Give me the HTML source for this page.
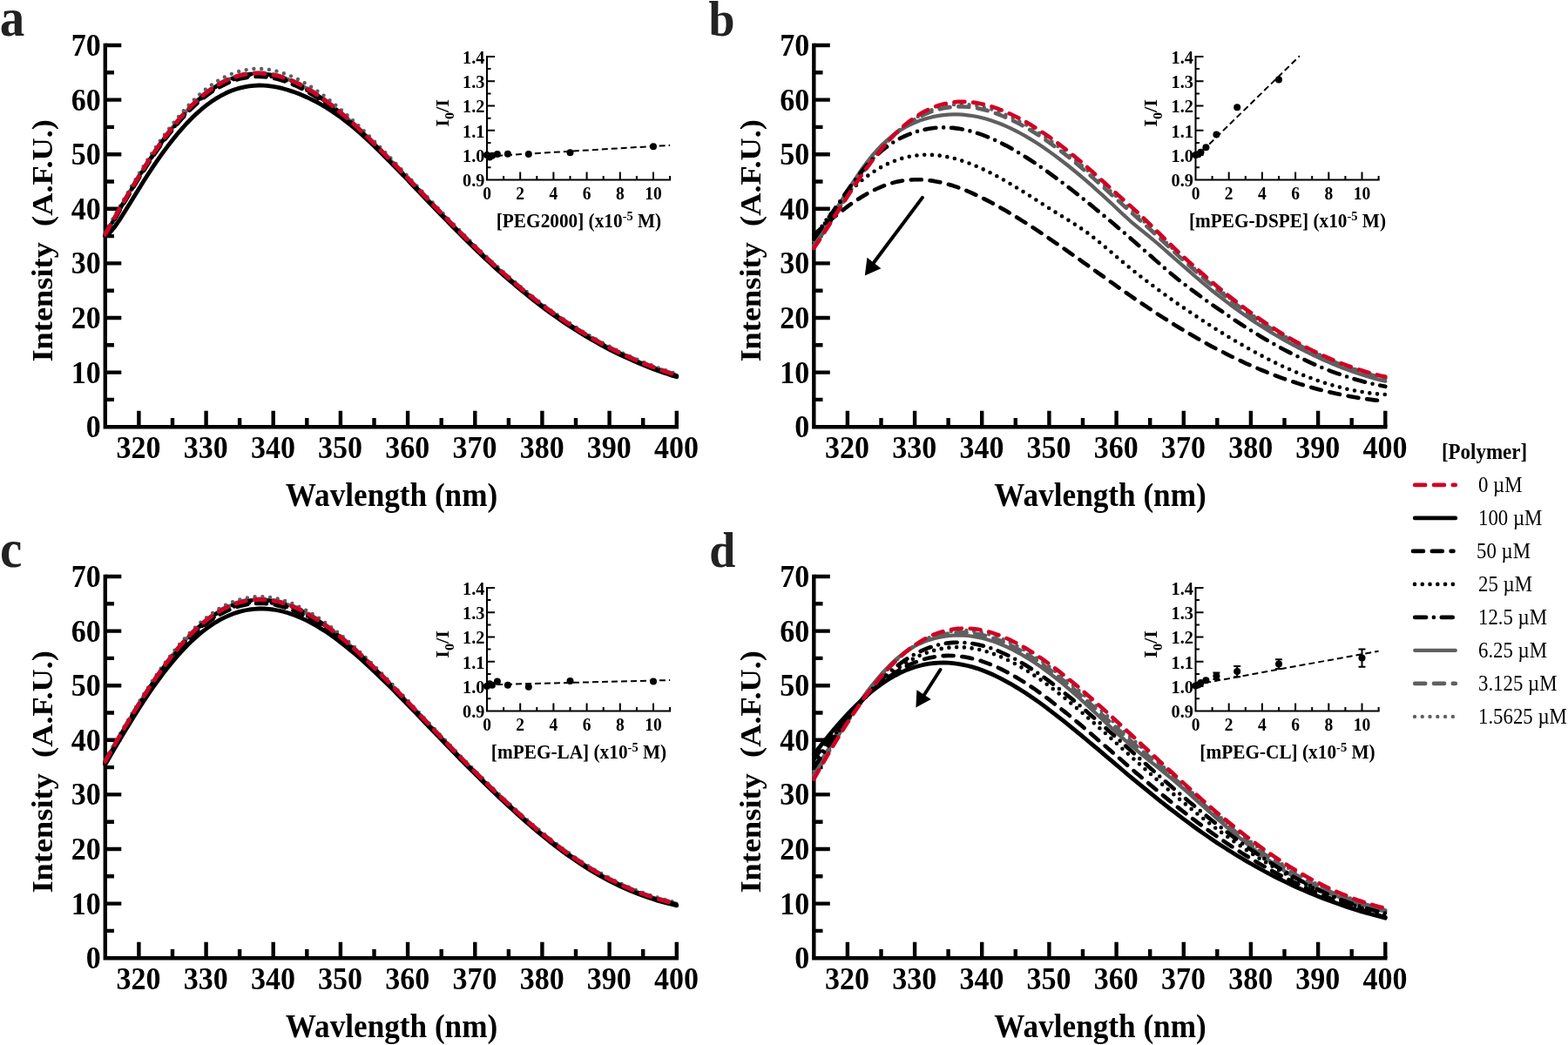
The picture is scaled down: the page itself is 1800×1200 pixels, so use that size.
<!DOCTYPE html>
<html><head><meta charset="utf-8"><title>Fluorescence quenching spectra</title>
<style>html,body{margin:0;padding:0;background:#fff;width:1800px;height:1200px;overflow:hidden}svg{display:block;filter:blur(0.35px)}</style>
</head><body>
<svg width="1800" height="1200" viewBox="0 0 1800 1200" font-family="&apos;Liberation Serif&apos;,&apos;Times New Roman&apos;,serif">
<rect width="1800" height="1200" fill="#fff"/>
<path d="M120.8,49.8 V490.2 H779.0" fill="none" stroke="#000" stroke-width="4.4" stroke-linejoin="miter"/>
<path d="M120.8,458.9 h10.2 M120.8,427.6 h18.5 M120.8,396.3 h10.2 M120.8,365.0 h18.5 M120.8,333.7 h10.2 M120.8,302.4 h18.5 M120.8,271.1 h10.2 M120.8,239.8 h18.5 M120.8,208.5 h10.2 M120.8,177.2 h18.5 M120.8,145.9 h10.2 M120.8,114.6 h18.5 M120.8,83.3 h10.2 M120.8,52.0 h18.5 M159.4,490.2 v-18.5 M198.0,490.2 v-10.2 M236.6,490.2 v-18.5 M275.1,490.2 v-10.2 M313.7,490.2 v-18.5 M352.3,490.2 v-10.2 M390.9,490.2 v-18.5 M429.5,490.2 v-10.2 M468.1,490.2 v-18.5 M506.7,490.2 v-10.2 M545.3,490.2 v-18.5 M583.9,490.2 v-10.2 M622.4,490.2 v-18.5 M661.0,490.2 v-10.2 M699.6,490.2 v-18.5 M738.2,490.2 v-10.2 M776.8,490.2 v-18.5" stroke="#000" stroke-width="4.4" fill="none"/>
<path d="M934.3,49.8 V490.2 H1592.5" fill="none" stroke="#000" stroke-width="4.4" stroke-linejoin="miter"/>
<path d="M934.3,458.9 h10.2 M934.3,427.6 h18.5 M934.3,396.3 h10.2 M934.3,365.0 h18.5 M934.3,333.7 h10.2 M934.3,302.4 h18.5 M934.3,271.1 h10.2 M934.3,239.8 h18.5 M934.3,208.5 h10.2 M934.3,177.2 h18.5 M934.3,145.9 h10.2 M934.3,114.6 h18.5 M934.3,83.3 h10.2 M934.3,52.0 h18.5 M972.9,490.2 v-18.5 M1011.5,490.2 v-10.2 M1050.1,490.2 v-18.5 M1088.6,490.2 v-10.2 M1127.2,490.2 v-18.5 M1165.8,490.2 v-10.2 M1204.4,490.2 v-18.5 M1243.0,490.2 v-10.2 M1281.6,490.2 v-18.5 M1320.2,490.2 v-10.2 M1358.8,490.2 v-18.5 M1397.3,490.2 v-10.2 M1435.9,490.2 v-18.5 M1474.5,490.2 v-10.2 M1513.1,490.2 v-18.5 M1551.7,490.2 v-10.2 M1590.3,490.2 v-18.5" stroke="#000" stroke-width="4.4" fill="none"/>
<path d="M120.8,659.8 V1100.2 H779.0" fill="none" stroke="#000" stroke-width="4.4" stroke-linejoin="miter"/>
<path d="M120.8,1068.9 h10.2 M120.8,1037.6 h18.5 M120.8,1006.3 h10.2 M120.8,975.0 h18.5 M120.8,943.7 h10.2 M120.8,912.4 h18.5 M120.8,881.1 h10.2 M120.8,849.8 h18.5 M120.8,818.5 h10.2 M120.8,787.2 h18.5 M120.8,755.9 h10.2 M120.8,724.6 h18.5 M120.8,693.3 h10.2 M120.8,662.0 h18.5 M159.4,1100.2 v-18.5 M198.0,1100.2 v-10.2 M236.6,1100.2 v-18.5 M275.1,1100.2 v-10.2 M313.7,1100.2 v-18.5 M352.3,1100.2 v-10.2 M390.9,1100.2 v-18.5 M429.5,1100.2 v-10.2 M468.1,1100.2 v-18.5 M506.7,1100.2 v-10.2 M545.3,1100.2 v-18.5 M583.9,1100.2 v-10.2 M622.4,1100.2 v-18.5 M661.0,1100.2 v-10.2 M699.6,1100.2 v-18.5 M738.2,1100.2 v-10.2 M776.8,1100.2 v-18.5" stroke="#000" stroke-width="4.4" fill="none"/>
<path d="M934.3,659.8 V1100.2 H1592.5" fill="none" stroke="#000" stroke-width="4.4" stroke-linejoin="miter"/>
<path d="M934.3,1068.9 h10.2 M934.3,1037.6 h18.5 M934.3,1006.3 h10.2 M934.3,975.0 h18.5 M934.3,943.7 h10.2 M934.3,912.4 h18.5 M934.3,881.1 h10.2 M934.3,849.8 h18.5 M934.3,818.5 h10.2 M934.3,787.2 h18.5 M934.3,755.9 h10.2 M934.3,724.6 h18.5 M934.3,693.3 h10.2 M934.3,662.0 h18.5 M972.9,1100.2 v-18.5 M1011.5,1100.2 v-10.2 M1050.1,1100.2 v-18.5 M1088.6,1100.2 v-10.2 M1127.2,1100.2 v-18.5 M1165.8,1100.2 v-10.2 M1204.4,1100.2 v-18.5 M1243.0,1100.2 v-10.2 M1281.6,1100.2 v-18.5 M1320.2,1100.2 v-10.2 M1358.8,1100.2 v-18.5 M1397.3,1100.2 v-10.2 M1435.9,1100.2 v-18.5 M1474.5,1100.2 v-10.2 M1513.1,1100.2 v-18.5 M1551.7,1100.2 v-10.2 M1590.3,1100.2 v-18.5" stroke="#000" stroke-width="4.4" fill="none"/>
<path d="M120.8,267.1 L126.3,257.2 L131.8,247.3 L137.3,237.5 L142.8,227.9 L148.4,218.3 L153.9,208.9 L159.4,199.7 L164.9,190.8 L170.4,182.0 L175.9,173.5 L181.4,165.3 L186.9,157.4 L192.5,149.8 L198.0,142.6 L203.5,135.7 L209.0,129.1 L214.5,123.0 L220.0,117.2 L225.5,111.8 L231.0,106.8 L236.6,102.2 L242.1,98.0 L247.6,94.2 L253.1,90.9 L258.6,88.0 L264.1,85.5 L269.6,83.4 L275.1,81.7 L280.7,80.4 L286.2,79.5 L291.7,79.0 L297.2,78.9 L302.7,79.2 L308.2,79.8 L313.7,80.8 L319.3,82.1 L324.8,83.8 L330.3,85.8 L335.8,88.1 L341.3,90.7 L346.8,93.6 L352.3,96.8 L357.8,100.2 L363.4,103.9 L368.9,107.8 L374.4,111.9 L379.9,116.2 L385.4,120.7 L390.9,125.4 L396.4,130.2 L401.9,135.2 L407.5,140.4 L413.0,145.6 L418.5,151.0 L424.0,156.4 L429.5,162.0 L435.0,167.6 L440.5,173.3 L446.0,179.0 L451.6,184.8 L457.1,190.6 L462.6,196.4 L468.1,202.3 L473.6,208.2 L479.1,214.0 L484.6,219.9 L490.1,225.7 L495.6,231.5 L501.2,237.3 L506.7,243.1 L512.2,248.8 L517.7,254.5 L523.2,260.1 L528.7,265.7 L534.2,271.2 L539.7,276.7 L545.3,282.1 L550.8,287.4 L556.3,292.6 L561.8,297.8 L567.3,302.8 L572.8,307.9 L578.3,312.8 L583.9,317.6 L589.4,322.3 L594.9,327.0 L600.4,331.6 L605.9,336.0 L611.4,340.4 L616.9,344.7 L622.4,348.9 L628.0,353.0 L633.5,357.0 L639.0,360.9 L644.5,364.8 L650.0,368.5 L655.5,372.1 L661.0,375.7 L666.5,379.1 L672.1,382.4 L677.6,385.7 L683.1,388.9 L688.6,391.9 L694.1,394.9 L699.6,397.8 L705.1,400.6 L710.6,403.3 L716.1,406.0 L721.7,408.5 L727.2,410.9 L732.7,413.3 L738.2,415.6 L743.7,417.8 L749.2,419.9 L754.7,422.0 L760.3,423.9 L765.8,425.8 L771.3,427.6 L776.8,429.4" fill="none" stroke="#5f5f5f" stroke-width="4.4" stroke-linecap="round" stroke-linejoin="round" stroke-dasharray="0 8.77"/>
<path d="M120.8,268.8 L126.3,258.9 L131.8,249.1 L137.3,239.4 L142.8,229.9 L148.4,220.4 L153.9,211.2 L159.4,202.1 L164.9,193.2 L170.4,184.6 L175.9,176.2 L181.4,168.1 L186.9,160.4 L192.5,152.9 L198.0,145.8 L203.5,139.0 L209.0,132.6 L214.5,126.5 L220.0,120.8 L225.5,115.6 L231.0,110.7 L236.6,106.2 L242.1,102.1 L247.6,98.5 L253.1,95.2 L258.6,92.4 L264.1,89.9 L269.6,87.9 L275.1,86.3 L280.7,85.0 L286.2,84.2 L291.7,83.7 L297.2,83.6 L302.7,83.9 L308.2,84.5 L313.7,85.5 L319.3,86.8 L324.8,88.4 L330.3,90.3 L335.8,92.6 L341.3,95.1 L346.8,97.9 L352.3,101.0 L357.8,104.3 L363.4,107.8 L368.9,111.6 L374.4,115.6 L379.9,119.8 L385.4,124.2 L390.9,128.7 L396.4,133.5 L401.9,138.3 L407.5,143.3 L413.0,148.4 L418.5,153.7 L424.0,159.0 L429.5,164.4 L435.0,169.9 L440.5,175.5 L446.0,181.1 L451.6,186.8 L457.1,192.5 L462.6,198.3 L468.1,204.1 L473.6,209.9 L479.1,215.6 L484.6,221.4 L490.1,227.2 L495.6,233.0 L501.2,238.7 L506.7,244.4 L512.2,250.1 L517.7,255.8 L523.2,261.3 L528.7,266.9 L534.2,272.4 L539.7,277.8 L545.3,283.2 L550.8,288.4 L556.3,293.7 L561.8,298.8 L567.3,303.9 L572.8,308.9 L578.3,313.8 L583.9,318.6 L589.4,323.3 L594.9,328.0 L600.4,332.5 L605.9,337.0 L611.4,341.4 L616.9,345.7 L622.4,349.9 L628.0,354.0 L633.5,358.0 L639.0,361.9 L644.5,365.7 L650.0,369.4 L655.5,373.1 L661.0,376.6 L666.5,380.0 L672.1,383.4 L677.6,386.6 L683.1,389.8 L688.6,392.9 L694.1,395.9 L699.6,398.8 L705.1,401.6 L710.6,404.3 L716.1,406.9 L721.7,409.4 L727.2,411.9 L732.7,414.3 L738.2,416.5 L743.7,418.8 L749.2,420.9 L754.7,422.9 L760.3,424.9 L765.8,426.8 L771.3,428.6 L776.8,430.3" fill="none" stroke="#5f5f5f" stroke-width="4.6" stroke-linecap="round" stroke-linejoin="round" stroke-dasharray="12 9.8"/>
<path d="M120.8,269.4 L126.3,259.6 L131.8,249.8 L137.3,240.1 L142.8,230.5 L148.4,221.1 L153.9,211.8 L159.4,202.7 L164.9,193.8 L170.4,185.2 L175.9,176.8 L181.4,168.8 L186.9,161.0 L192.5,153.5 L198.0,146.4 L203.5,139.6 L209.0,133.2 L214.5,127.1 L220.0,121.5 L225.5,116.2 L231.0,111.3 L236.6,106.8 L242.1,102.8 L247.6,99.1 L253.1,95.8 L258.6,93.0 L264.1,90.6 L269.6,88.5 L275.1,86.9 L280.7,85.6 L286.2,84.8 L291.7,84.3 L297.2,84.2 L302.7,84.5 L308.2,85.1 L313.7,86.1 L319.3,87.4 L324.8,89.0 L330.3,90.9 L335.8,93.2 L341.3,95.7 L346.8,98.5 L352.3,101.6 L357.8,104.9 L363.4,108.5 L368.9,112.3 L374.4,116.2 L379.9,120.4 L385.4,124.8 L390.9,129.4 L396.4,134.1 L401.9,138.9 L407.5,143.9 L413.0,149.1 L418.5,154.3 L424.0,159.6 L429.5,165.1 L435.0,170.6 L440.5,176.1 L446.0,181.8 L451.6,187.4 L457.1,193.2 L462.6,198.9 L468.1,204.7 L473.6,210.5 L479.1,216.3 L484.6,222.1 L490.1,227.8 L495.6,233.6 L501.2,239.4 L506.7,245.1 L512.2,250.7 L517.7,256.4 L523.2,262.0 L528.7,267.5 L534.2,273.0 L539.7,278.4 L545.3,283.8 L550.8,289.1 L556.3,294.3 L561.8,299.4 L567.3,304.5 L572.8,309.5 L578.3,314.4 L583.9,319.2 L589.4,324.0 L594.9,328.6 L600.4,333.2 L605.9,337.6 L611.4,342.0 L616.9,346.3 L622.4,350.5 L628.0,354.6 L633.5,358.6 L639.0,362.5 L644.5,366.3 L650.0,370.1 L655.5,373.7 L661.0,377.2 L666.5,380.7 L672.1,384.0 L677.6,387.3 L683.1,390.4 L688.6,393.5 L694.1,396.5 L699.6,399.4 L705.1,402.2 L710.6,404.9 L716.1,407.5 L721.7,410.1 L727.2,412.5 L732.7,414.9 L738.2,417.2 L743.7,419.4 L749.2,421.5 L754.7,423.5 L760.3,425.5 L765.8,427.4 L771.3,429.2 L776.8,430.9" fill="none" stroke="#5f5f5f" stroke-width="4.2" stroke-linecap="round" stroke-linejoin="round"/>
<path d="M120.8,270.0 L126.3,260.2 L131.8,250.4 L137.3,240.7 L142.8,231.1 L148.4,221.7 L153.9,212.4 L159.4,203.3 L164.9,194.5 L170.4,185.8 L175.9,177.5 L181.4,169.4 L186.9,161.6 L192.5,154.1 L198.0,147.0 L203.5,140.2 L209.0,133.8 L214.5,127.8 L220.0,122.1 L225.5,116.8 L231.0,111.9 L236.6,107.5 L242.1,103.4 L247.6,99.7 L253.1,96.5 L258.6,93.6 L264.1,91.2 L269.6,89.1 L275.1,87.5 L280.7,86.3 L286.2,85.4 L291.7,84.9 L297.2,84.8 L302.7,85.1 L308.2,85.7 L313.7,86.7 L319.3,88.0 L324.8,89.6 L330.3,91.6 L335.8,93.8 L341.3,96.3 L346.8,99.2 L352.3,102.2 L357.8,105.5 L363.4,109.1 L368.9,112.9 L374.4,116.9 L379.9,121.1 L385.4,125.4 L390.9,130.0 L396.4,134.7 L401.9,139.6 L407.5,144.6 L413.0,149.7 L418.5,154.9 L424.0,160.3 L429.5,165.7 L435.0,171.2 L440.5,176.8 L446.0,182.4 L451.6,188.1 L457.1,193.8 L462.6,199.5 L468.1,205.3 L473.6,211.1 L479.1,216.9 L484.6,222.7 L490.1,228.5 L495.6,234.2 L501.2,240.0 L506.7,245.7 L512.2,251.4 L517.7,257.0 L523.2,262.6 L528.7,268.1 L534.2,273.6 L539.7,279.0 L545.3,284.4 L550.8,289.7 L556.3,294.9 L561.8,300.1 L567.3,305.1 L572.8,310.1 L578.3,315.0 L583.9,319.8 L589.4,324.6 L594.9,329.2 L600.4,333.8 L605.9,338.3 L611.4,342.6 L616.9,346.9 L622.4,351.1 L628.0,355.2 L633.5,359.2 L639.0,363.1 L644.5,367.0 L650.0,370.7 L655.5,374.3 L661.0,377.8 L666.5,381.3 L672.1,384.6 L677.6,387.9 L683.1,391.1 L688.6,394.1 L694.1,397.1 L699.6,400.0 L705.1,402.8 L710.6,405.5 L716.1,408.1 L721.7,410.7 L727.2,413.1 L732.7,415.5 L738.2,417.8 L743.7,420.0 L749.2,422.1 L754.7,424.2 L760.3,426.1 L765.8,428.0 L771.3,429.8 L776.8,431.6" fill="none" stroke="#000" stroke-width="4.6" stroke-linecap="round" stroke-linejoin="round" stroke-dasharray="12.9 8.8 0 8.9"/>
<path d="M120.8,270.6 L126.3,260.8 L131.8,251.0 L137.3,241.3 L142.8,231.8 L148.4,222.4 L153.9,213.1 L159.4,204.1 L164.9,195.3 L170.4,186.7 L175.9,178.4 L181.4,170.3 L186.9,162.6 L192.5,155.2 L198.0,148.1 L203.5,141.3 L209.0,135.0 L214.5,128.9 L220.0,123.3 L225.5,118.1 L231.0,113.2 L236.6,108.8 L242.1,104.8 L247.6,101.1 L253.1,97.9 L258.6,95.1 L264.1,92.7 L269.6,90.7 L275.1,89.0 L280.7,87.8 L286.2,87.0 L291.7,86.5 L297.2,86.4 L302.7,86.7 L308.2,87.3 L313.7,88.3 L319.3,89.5 L324.8,91.2 L330.3,93.1 L335.8,95.3 L341.3,97.8 L346.8,100.6 L352.3,103.6 L357.8,106.9 L363.4,110.4 L368.9,114.2 L374.4,118.1 L379.9,122.3 L385.4,126.6 L390.9,131.1 L396.4,135.8 L401.9,140.6 L407.5,145.6 L413.0,150.6 L418.5,155.8 L424.0,161.1 L429.5,166.5 L435.0,172.0 L440.5,177.5 L446.0,183.1 L451.6,188.8 L457.1,194.4 L462.6,200.2 L468.1,205.9 L473.6,211.7 L479.1,217.4 L484.6,223.2 L490.1,229.0 L495.6,234.7 L501.2,240.4 L506.7,246.1 L512.2,251.8 L517.7,257.4 L523.2,263.0 L528.7,268.5 L534.2,274.0 L539.7,279.4 L545.3,284.8 L550.8,290.1 L556.3,295.3 L561.8,300.4 L567.3,305.5 L572.8,310.5 L578.3,315.4 L583.9,320.2 L589.4,324.9 L594.9,329.6 L600.4,334.1 L605.9,338.6 L611.4,343.0 L616.9,347.2 L622.4,351.4 L628.0,355.5 L633.5,359.5 L639.0,363.5 L644.5,367.3 L650.0,371.0 L655.5,374.6 L661.0,378.2 L666.5,381.6 L672.1,385.0 L677.6,388.2 L683.1,391.4 L688.6,394.4 L694.1,397.4 L699.6,400.3 L705.1,403.1 L710.6,405.8 L716.1,408.5 L721.7,411.0 L727.2,413.5 L732.7,415.8 L738.2,418.1 L743.7,420.3 L749.2,422.4 L754.7,424.5 L760.3,426.4 L765.8,428.3 L771.3,430.1 L776.8,431.9" fill="none" stroke="#000" stroke-width="4.6" stroke-linecap="round" stroke-linejoin="round" stroke-dasharray="0 8.77"/>
<path d="M120.8,271.1 L126.3,261.3 L131.8,251.6 L137.3,242.0 L142.8,232.5 L148.4,223.1 L153.9,213.9 L159.4,204.9 L164.9,196.1 L170.4,187.5 L175.9,179.2 L181.4,171.2 L186.9,163.5 L192.5,156.2 L198.0,149.1 L203.5,142.4 L209.0,136.1 L214.5,130.1 L220.0,124.5 L225.5,119.3 L231.0,114.5 L236.6,110.1 L242.1,106.1 L247.6,102.5 L253.1,99.4 L258.6,96.6 L264.1,94.2 L269.6,92.2 L275.1,90.6 L280.7,89.4 L286.2,88.5 L291.7,88.1 L297.2,88.0 L302.7,88.2 L308.2,88.9 L313.7,89.8 L319.3,91.1 L324.8,92.7 L330.3,94.6 L335.8,96.8 L341.3,99.2 L346.8,102.0 L352.3,105.0 L357.8,108.3 L363.4,111.7 L368.9,115.4 L374.4,119.4 L379.9,123.5 L385.4,127.8 L390.9,132.2 L396.4,136.9 L401.9,141.6 L407.5,146.5 L413.0,151.6 L418.5,156.7 L424.0,162.0 L429.5,167.3 L435.0,172.8 L440.5,178.3 L446.0,183.8 L451.6,189.4 L457.1,195.1 L462.6,200.8 L468.1,206.5 L473.6,212.2 L479.1,218.0 L484.6,223.7 L490.1,229.5 L495.6,235.2 L501.2,240.9 L506.7,246.6 L512.2,252.2 L517.7,257.8 L523.2,263.4 L528.7,268.9 L534.2,274.4 L539.7,279.8 L545.3,285.1 L550.8,290.4 L556.3,295.6 L561.8,300.8 L567.3,305.8 L572.8,310.8 L578.3,315.7 L583.9,320.5 L589.4,325.2 L594.9,329.9 L600.4,334.4 L605.9,338.9 L611.4,343.3 L616.9,347.6 L622.4,351.8 L628.0,355.9 L633.5,359.9 L639.0,363.8 L644.5,367.6 L650.0,371.3 L655.5,374.9 L661.0,378.5 L666.5,381.9 L672.1,385.3 L677.6,388.5 L683.1,391.7 L688.6,394.8 L694.1,397.7 L699.6,400.6 L705.1,403.4 L710.6,406.1 L716.1,408.8 L721.7,411.3 L727.2,413.8 L732.7,416.1 L738.2,418.4 L743.7,420.6 L749.2,422.8 L754.7,424.8 L760.3,426.8 L765.8,428.7 L771.3,430.5 L776.8,432.2" fill="none" stroke="#000" stroke-width="4.6" stroke-linecap="round" stroke-linejoin="round" stroke-dasharray="12 9.8"/>
<path d="M120.8,271.3 L126.3,267.0 L131.8,260.4 L137.3,252.4 L142.8,243.7 L148.4,234.8 L153.9,225.8 L159.4,216.9 L164.9,208.1 L170.4,199.5 L175.9,191.2 L181.4,183.1 L186.9,175.4 L192.5,167.9 L198.0,160.8 L203.5,154.0 L209.0,147.6 L214.5,141.5 L220.0,135.8 L225.5,130.6 L231.0,125.7 L236.6,121.2 L242.1,117.1 L247.6,113.4 L253.1,110.2 L258.6,107.3 L264.1,104.8 L269.6,102.7 L275.1,101.1 L280.7,99.8 L286.2,98.8 L291.7,98.3 L297.2,98.0 L302.7,98.2 L308.2,98.6 L313.7,99.4 L319.3,100.4 L324.8,101.7 L330.3,103.3 L335.8,105.1 L341.3,107.1 L346.8,109.3 L352.3,111.7 L357.8,114.4 L363.4,117.2 L368.9,120.2 L374.4,123.5 L379.9,127.0 L385.4,130.7 L390.9,134.6 L396.4,138.8 L401.9,143.2 L407.5,147.7 L413.0,152.5 L418.5,157.4 L424.0,162.5 L429.5,167.7 L435.0,173.1 L440.5,178.5 L446.0,184.1 L451.6,189.7 L457.1,195.3 L462.6,201.0 L468.1,206.7 L473.6,212.5 L479.1,218.3 L484.6,224.0 L490.1,229.8 L495.6,235.5 L501.2,241.3 L506.7,247.0 L512.2,252.6 L517.7,258.3 L523.2,263.9 L528.7,269.4 L534.2,274.9 L539.7,280.3 L545.3,285.7 L550.8,290.9 L556.3,296.2 L561.8,301.3 L567.3,306.4 L572.8,311.4 L578.3,316.3 L583.9,321.1 L589.4,325.8 L594.9,330.5 L600.4,335.0 L605.9,339.5 L611.4,343.9 L616.9,348.2 L622.4,352.4 L628.0,356.5 L633.5,360.5 L639.0,364.4 L644.5,368.2 L650.0,371.9 L655.5,375.6 L661.0,379.1 L666.5,382.5 L672.1,385.9 L677.6,389.1 L683.1,392.3 L688.6,395.4 L694.1,398.4 L699.6,401.3 L705.1,404.1 L710.6,406.8 L716.1,409.4 L721.7,411.9 L727.2,414.4 L732.7,416.8 L738.2,419.1 L743.7,421.3 L749.2,423.4 L754.7,425.4 L760.3,427.4 L765.8,429.3 L771.3,431.1 L776.8,432.8" fill="none" stroke="#000" stroke-width="4.8" stroke-linecap="round" stroke-linejoin="round"/>
<path d="M120.8,269.4 L126.3,259.6 L131.8,249.8 L137.3,240.1 L142.8,230.5 L148.4,221.1 L153.9,211.8 L159.4,202.7 L164.9,193.8 L170.4,185.2 L175.9,176.8 L181.4,168.8 L186.9,161.0 L192.5,153.5 L198.0,146.4 L203.5,139.6 L209.0,133.2 L214.5,127.1 L220.0,121.5 L225.5,116.2 L231.0,111.3 L236.6,106.8 L242.1,102.8 L247.6,99.1 L253.1,95.8 L258.6,93.0 L264.1,90.6 L269.6,88.5 L275.1,86.9 L280.7,85.6 L286.2,84.8 L291.7,84.3 L297.2,84.2 L302.7,84.5 L308.2,85.1 L313.7,86.1 L319.3,87.4 L324.8,89.0 L330.3,90.9 L335.8,93.2 L341.3,95.7 L346.8,98.5 L352.3,101.6 L357.8,104.9 L363.4,108.5 L368.9,112.3 L374.4,116.2 L379.9,120.4 L385.4,124.8 L390.9,129.4 L396.4,134.1 L401.9,138.9 L407.5,143.9 L413.0,149.1 L418.5,154.3 L424.0,159.6 L429.5,165.1 L435.0,170.6 L440.5,176.1 L446.0,181.8 L451.6,187.4 L457.1,193.2 L462.6,198.9 L468.1,204.7 L473.6,210.5 L479.1,216.3 L484.6,222.1 L490.1,227.8 L495.6,233.6 L501.2,239.4 L506.7,245.1 L512.2,250.7 L517.7,256.4 L523.2,262.0 L528.7,267.5 L534.2,273.0 L539.7,278.4 L545.3,283.8 L550.8,289.1 L556.3,294.3 L561.8,299.4 L567.3,304.5 L572.8,309.5 L578.3,314.4 L583.9,319.2 L589.4,324.0 L594.9,328.6 L600.4,333.2 L605.9,337.6 L611.4,342.0 L616.9,346.3 L622.4,350.5 L628.0,354.6 L633.5,358.6 L639.0,362.5 L644.5,366.3 L650.0,370.1 L655.5,373.7 L661.0,377.2 L666.5,380.7 L672.1,384.0 L677.6,387.3 L683.1,390.4 L688.6,393.5 L694.1,396.5 L699.6,399.4 L705.1,402.2 L710.6,404.9 L716.1,407.5 L721.7,410.1 L727.2,412.5 L732.7,414.9 L738.2,417.2 L743.7,419.4 L749.2,421.5 L754.7,423.5 L760.3,425.5 L765.8,427.4 L771.3,429.2 L776.8,430.9" fill="none" stroke="#d00325" stroke-width="4.6" stroke-linecap="round" stroke-linejoin="round" stroke-dasharray="12 9.8"/>
<path d="M934.3,283.3 L939.8,275.4 L945.3,267.2 L950.8,258.8 L956.3,250.2 L961.9,241.6 L967.4,232.9 L972.9,224.3 L978.4,215.8 L983.9,207.5 L989.4,199.5 L994.9,191.8 L1000.4,184.4 L1006.0,177.4 L1011.5,170.8 L1017.0,164.6 L1022.5,158.8 L1028.0,153.4 L1033.5,148.4 L1039.0,143.9 L1044.5,139.8 L1050.1,136.1 L1055.6,132.8 L1061.1,129.9 L1066.6,127.3 L1072.1,125.2 L1077.6,123.4 L1083.1,122.0 L1088.6,120.9 L1094.2,120.2 L1099.7,119.8 L1105.2,119.8 L1110.7,120.0 L1116.2,120.6 L1121.7,121.4 L1127.2,122.6 L1132.8,123.9 L1138.3,125.6 L1143.8,127.4 L1149.3,129.5 L1154.8,131.8 L1160.3,134.3 L1165.8,137.0 L1171.3,139.9 L1176.9,142.9 L1182.4,146.1 L1187.9,149.5 L1193.4,153.0 L1198.9,156.7 L1204.4,160.6 L1209.9,164.5 L1215.4,168.6 L1221.0,172.9 L1226.5,177.2 L1232.0,181.7 L1237.5,186.3 L1243.0,191.0 L1248.5,195.7 L1254.0,200.6 L1259.5,205.6 L1265.1,210.5 L1270.6,215.6 L1276.1,220.6 L1281.6,225.6 L1287.1,230.5 L1292.6,235.4 L1298.1,240.4 L1303.6,245.3 L1309.1,250.4 L1314.7,255.5 L1320.2,260.7 L1325.7,265.9 L1331.2,271.2 L1336.7,276.5 L1342.2,281.7 L1347.7,286.9 L1353.2,292.1 L1358.8,297.2 L1364.3,302.2 L1369.8,307.2 L1375.3,312.0 L1380.8,316.8 L1386.3,321.6 L1391.8,326.3 L1397.3,330.8 L1402.9,335.3 L1408.4,339.8 L1413.9,344.1 L1419.4,348.4 L1424.9,352.5 L1430.4,356.6 L1435.9,360.6 L1441.5,364.5 L1447.0,368.3 L1452.5,372.0 L1458.0,375.7 L1463.5,379.2 L1469.0,382.6 L1474.5,386.0 L1480.0,389.2 L1485.6,392.3 L1491.1,395.4 L1496.6,398.3 L1502.1,401.2 L1507.6,404.0 L1513.1,406.6 L1518.6,409.2 L1524.1,411.7 L1529.6,414.1 L1535.2,416.3 L1540.7,418.5 L1546.2,420.6 L1551.7,422.6 L1557.2,424.5 L1562.7,426.2 L1568.2,427.9 L1573.8,429.5 L1579.3,431.0 L1584.8,432.4 L1590.3,433.7" fill="none" stroke="#5f5f5f" stroke-width="4.4" stroke-linecap="round" stroke-linejoin="round" stroke-dasharray="0 8.77"/>
<path d="M934.3,281.8 L939.8,274.1 L945.3,266.0 L950.8,257.7 L956.3,249.2 L961.9,240.5 L967.4,231.8 L972.9,223.2 L978.4,214.7 L983.9,206.3 L989.4,198.3 L994.9,190.6 L1000.4,183.3 L1006.0,176.5 L1011.5,170.0 L1017.0,164.0 L1022.5,158.5 L1028.0,153.3 L1033.5,148.7 L1039.0,144.4 L1044.5,140.6 L1050.1,137.1 L1055.6,134.1 L1061.1,131.4 L1066.6,129.1 L1072.1,127.2 L1077.6,125.6 L1083.1,124.3 L1088.6,123.4 L1094.2,122.7 L1099.7,122.4 L1105.2,122.5 L1110.7,122.8 L1116.2,123.4 L1121.7,124.3 L1127.2,125.4 L1132.8,126.8 L1138.3,128.5 L1143.8,130.4 L1149.3,132.5 L1154.8,134.8 L1160.3,137.3 L1165.8,140.0 L1171.3,142.8 L1176.9,145.9 L1182.4,149.1 L1187.9,152.5 L1193.4,156.0 L1198.9,159.7 L1204.4,163.6 L1209.9,167.5 L1215.4,171.6 L1221.0,175.9 L1226.5,180.2 L1232.0,184.7 L1237.5,189.3 L1243.0,193.9 L1248.5,198.7 L1254.0,203.6 L1259.5,208.5 L1265.1,213.5 L1270.6,218.5 L1276.1,223.6 L1281.6,228.6 L1287.1,233.6 L1292.6,238.5 L1298.1,243.5 L1303.6,248.4 L1309.1,253.3 L1314.7,258.3 L1320.2,263.3 L1325.7,268.4 L1331.2,273.5 L1336.7,278.7 L1342.2,283.9 L1347.7,289.0 L1353.2,294.1 L1358.8,299.1 L1364.3,304.1 L1369.8,309.0 L1375.3,313.9 L1380.8,318.7 L1386.3,323.4 L1391.8,328.0 L1397.3,332.5 L1402.9,337.0 L1408.4,341.4 L1413.9,345.7 L1419.4,349.9 L1424.9,354.0 L1430.4,358.0 L1435.9,362.0 L1441.5,365.8 L1447.0,369.6 L1452.5,373.3 L1458.0,376.8 L1463.5,380.3 L1469.0,383.7 L1474.5,387.0 L1480.0,390.2 L1485.6,393.3 L1491.1,396.3 L1496.6,399.3 L1502.1,402.1 L1507.6,404.8 L1513.1,407.5 L1518.6,410.0 L1524.1,412.5 L1529.6,414.9 L1535.2,417.2 L1540.7,419.3 L1546.2,421.4 L1551.7,423.4 L1557.2,425.3 L1562.7,427.1 L1568.2,428.8 L1573.8,430.4 L1579.3,431.9 L1584.8,433.3 L1590.3,434.6" fill="none" stroke="#5f5f5f" stroke-width="4.6" stroke-linecap="round" stroke-linejoin="round" stroke-dasharray="12 9.8"/>
<path d="M934.3,276.6 L939.8,269.6 L945.3,262.0 L950.8,253.9 L956.3,245.5 L961.9,236.9 L967.4,228.1 L972.9,219.3 L978.4,210.7 L983.9,202.3 L989.4,194.2 L994.9,186.7 L1000.4,179.7 L1006.0,173.3 L1011.5,167.4 L1017.0,162.2 L1022.5,157.5 L1028.0,153.2 L1033.5,149.5 L1039.0,146.2 L1044.5,143.3 L1050.1,140.8 L1055.6,138.6 L1061.1,136.8 L1066.6,135.2 L1072.1,133.9 L1077.6,132.9 L1083.1,132.2 L1088.6,131.7 L1094.2,131.4 L1099.7,131.4 L1105.2,131.7 L1110.7,132.3 L1116.2,133.0 L1121.7,134.0 L1127.2,135.3 L1132.8,136.8 L1138.3,138.5 L1143.8,140.4 L1149.3,142.5 L1154.8,144.9 L1160.3,147.4 L1165.8,150.1 L1171.3,153.0 L1176.9,156.1 L1182.4,159.4 L1187.9,162.8 L1193.4,166.3 L1198.9,170.0 L1204.4,173.9 L1209.9,177.9 L1215.4,182.0 L1221.0,186.2 L1226.5,190.5 L1232.0,195.0 L1237.5,199.5 L1243.0,204.2 L1248.5,208.9 L1254.0,213.7 L1259.5,218.7 L1265.1,223.6 L1270.6,228.7 L1276.1,233.8 L1281.6,239.0 L1287.1,244.2 L1292.6,249.3 L1298.1,254.3 L1303.6,258.9 L1309.1,263.4 L1314.7,267.8 L1320.2,272.4 L1325.7,277.0 L1331.2,281.7 L1336.7,286.5 L1342.2,291.3 L1347.7,296.2 L1353.2,301.0 L1358.8,305.9 L1364.3,310.7 L1369.8,315.5 L1375.3,320.2 L1380.8,324.9 L1386.3,329.5 L1391.8,334.0 L1397.3,338.4 L1402.9,342.7 L1408.4,346.9 L1413.9,351.0 L1419.4,355.1 L1424.9,359.0 L1430.4,362.9 L1435.9,366.7 L1441.5,370.4 L1447.0,374.0 L1452.5,377.5 L1458.0,380.9 L1463.5,384.2 L1469.0,387.5 L1474.5,390.6 L1480.0,393.7 L1485.6,396.7 L1491.1,399.6 L1496.6,402.4 L1502.1,405.2 L1507.6,407.8 L1513.1,410.4 L1518.6,413.0 L1524.1,415.4 L1529.6,417.7 L1535.2,420.0 L1540.7,422.2 L1546.2,424.3 L1551.7,426.3 L1557.2,428.2 L1562.7,430.0 L1568.2,431.8 L1573.8,433.4 L1579.3,435.0 L1584.8,436.4 L1590.3,437.7" fill="none" stroke="#5f5f5f" stroke-width="4.2" stroke-linecap="round" stroke-linejoin="round"/>
<path d="M934.3,274.1 L939.8,266.6 L945.3,258.8 L950.8,250.8 L956.3,242.7 L961.9,234.6 L967.4,226.6 L972.9,218.7 L978.4,211.0 L983.9,203.6 L989.4,196.6 L994.9,190.1 L1000.4,184.1 L1006.0,178.6 L1011.5,173.7 L1017.0,169.3 L1022.5,165.3 L1028.0,161.8 L1033.5,158.8 L1039.0,156.1 L1044.5,153.8 L1050.1,151.8 L1055.6,150.1 L1061.1,148.8 L1066.6,147.7 L1072.1,147.0 L1077.6,146.5 L1083.1,146.4 L1088.6,146.5 L1094.2,146.9 L1099.7,147.6 L1105.2,148.5 L1110.7,149.7 L1116.2,151.1 L1121.7,152.8 L1127.2,154.7 L1132.8,156.8 L1138.3,159.1 L1143.8,161.6 L1149.3,164.3 L1154.8,167.1 L1160.3,170.1 L1165.8,173.3 L1171.3,176.6 L1176.9,180.0 L1182.4,183.5 L1187.9,187.1 L1193.4,190.9 L1198.9,194.7 L1204.4,198.6 L1209.9,202.6 L1215.4,206.7 L1221.0,210.8 L1226.5,215.0 L1232.0,219.3 L1237.5,223.6 L1243.0,228.0 L1248.5,232.4 L1254.0,236.8 L1259.5,241.4 L1265.1,245.9 L1270.6,250.5 L1276.1,255.1 L1281.6,259.8 L1287.1,264.4 L1292.6,269.1 L1298.1,273.9 L1303.6,278.7 L1309.1,283.5 L1314.7,288.3 L1320.2,293.2 L1325.7,298.1 L1331.2,302.9 L1336.7,307.7 L1342.2,312.4 L1347.7,317.0 L1353.2,321.5 L1358.8,325.8 L1364.3,330.0 L1369.8,334.1 L1375.3,338.2 L1380.8,342.2 L1386.3,346.2 L1391.8,350.1 L1397.3,353.9 L1402.9,357.7 L1408.4,361.5 L1413.9,365.2 L1419.4,368.9 L1424.9,372.5 L1430.4,376.0 L1435.9,379.4 L1441.5,382.8 L1447.0,386.2 L1452.5,389.4 L1458.0,392.6 L1463.5,395.7 L1469.0,398.8 L1474.5,401.7 L1480.0,404.6 L1485.6,407.4 L1491.1,410.1 L1496.6,412.8 L1502.1,415.3 L1507.6,417.8 L1513.1,420.2 L1518.6,422.5 L1524.1,424.7 L1529.6,426.8 L1535.2,428.8 L1540.7,430.7 L1546.2,432.6 L1551.7,434.3 L1557.2,436.0 L1562.7,437.5 L1568.2,439.0 L1573.8,440.3 L1579.3,441.6 L1584.8,442.7 L1590.3,443.8" fill="none" stroke="#000" stroke-width="4.6" stroke-linecap="round" stroke-linejoin="round" stroke-dasharray="12.9 8.8 0 8.9"/>
<path d="M934.3,274.7 L939.8,265.7 L945.3,257.3 L950.8,249.4 L956.3,242.0 L961.9,235.0 L967.4,228.6 L972.9,222.6 L978.4,217.0 L983.9,211.9 L989.4,207.1 L994.9,202.7 L1000.4,198.8 L1006.0,195.1 L1011.5,191.9 L1017.0,189.0 L1022.5,186.5 L1028.0,184.3 L1033.5,182.4 L1039.0,180.9 L1044.5,179.7 L1050.1,178.7 L1055.6,178.1 L1061.1,177.8 L1066.6,177.8 L1072.1,178.0 L1077.6,178.5 L1083.1,179.3 L1088.6,180.4 L1094.2,181.6 L1099.7,183.1 L1105.2,184.9 L1110.7,186.8 L1116.2,188.9 L1121.7,191.2 L1127.2,193.7 L1132.8,196.3 L1138.3,199.1 L1143.8,202.0 L1149.3,205.0 L1154.8,208.2 L1160.3,211.4 L1165.8,214.7 L1171.3,218.1 L1176.9,221.6 L1182.4,225.0 L1187.9,228.5 L1193.4,232.1 L1198.9,235.6 L1204.4,239.1 L1209.9,242.6 L1215.4,246.1 L1221.0,249.5 L1226.5,252.9 L1232.0,256.4 L1237.5,259.9 L1243.0,263.6 L1248.5,267.5 L1254.0,271.7 L1259.5,276.1 L1265.1,280.7 L1270.6,285.3 L1276.1,290.0 L1281.6,294.7 L1287.1,299.4 L1292.6,303.9 L1298.1,308.4 L1303.6,312.8 L1309.1,317.2 L1314.7,321.5 L1320.2,325.7 L1325.7,329.8 L1331.2,333.9 L1336.7,337.9 L1342.2,341.9 L1347.7,345.8 L1353.2,349.7 L1358.8,353.5 L1364.3,357.2 L1369.8,360.9 L1375.3,364.6 L1380.8,368.2 L1386.3,371.8 L1391.8,375.3 L1397.3,378.8 L1402.9,382.3 L1408.4,385.7 L1413.9,389.0 L1419.4,392.3 L1424.9,395.5 L1430.4,398.7 L1435.9,401.8 L1441.5,404.9 L1447.0,407.8 L1452.5,410.7 L1458.0,413.5 L1463.5,416.3 L1469.0,419.0 L1474.5,421.5 L1480.0,424.0 L1485.6,426.4 L1491.1,428.8 L1496.6,431.0 L1502.1,433.1 L1507.6,435.2 L1513.1,437.1 L1518.6,439.0 L1524.1,440.7 L1529.6,442.4 L1535.2,443.9 L1540.7,445.3 L1546.2,446.7 L1551.7,447.9 L1557.2,449.0 L1562.7,449.9 L1568.2,450.8 L1573.8,451.6 L1579.3,452.2 L1584.8,452.7 L1590.3,453.0" fill="none" stroke="#000" stroke-width="4.6" stroke-linecap="round" stroke-linejoin="round" stroke-dasharray="0 8.77"/>
<path d="M934.3,269.8 L939.8,264.8 L945.3,259.9 L950.8,255.0 L956.3,250.3 L961.9,245.8 L967.4,241.4 L972.9,237.2 L978.4,233.2 L983.9,229.5 L989.4,226.0 L994.9,222.7 L1000.4,219.7 L1006.0,217.0 L1011.5,214.6 L1017.0,212.4 L1022.5,210.6 L1028.0,209.1 L1033.5,208.0 L1039.0,207.1 L1044.5,206.5 L1050.1,206.2 L1055.6,206.2 L1061.1,206.5 L1066.6,207.1 L1072.1,207.9 L1077.6,208.9 L1083.1,210.2 L1088.6,211.7 L1094.2,213.3 L1099.7,215.2 L1105.2,217.3 L1110.7,219.5 L1116.2,221.9 L1121.7,224.5 L1127.2,227.1 L1132.8,229.9 L1138.3,232.8 L1143.8,235.8 L1149.3,238.9 L1154.8,242.1 L1160.3,245.3 L1165.8,248.7 L1171.3,252.1 L1176.9,255.6 L1182.4,259.1 L1187.9,262.7 L1193.4,266.4 L1198.9,270.0 L1204.4,273.8 L1209.9,277.6 L1215.4,281.4 L1221.0,285.2 L1226.5,289.1 L1232.0,292.9 L1237.5,296.8 L1243.0,300.8 L1248.5,304.7 L1254.0,308.6 L1259.5,312.6 L1265.1,316.5 L1270.6,320.5 L1276.1,324.4 L1281.6,328.3 L1287.1,332.2 L1292.6,336.0 L1298.1,339.9 L1303.6,343.7 L1309.1,347.4 L1314.7,351.1 L1320.2,354.8 L1325.7,358.5 L1331.2,362.1 L1336.7,365.6 L1342.2,369.1 L1347.7,372.6 L1353.2,376.0 L1358.8,379.3 L1364.3,382.6 L1369.8,385.8 L1375.3,389.0 L1380.8,392.1 L1386.3,395.2 L1391.8,398.2 L1397.3,401.1 L1402.9,403.9 L1408.4,406.7 L1413.9,409.5 L1419.4,412.1 L1424.9,414.7 L1430.4,417.3 L1435.9,419.7 L1441.5,422.1 L1447.0,424.5 L1452.5,426.7 L1458.0,428.9 L1463.5,431.0 L1469.0,433.1 L1474.5,435.1 L1480.0,437.0 L1485.6,438.8 L1491.1,440.6 L1496.6,442.3 L1502.1,443.9 L1507.6,445.5 L1513.1,447.0 L1518.6,448.4 L1524.1,449.8 L1529.6,451.1 L1535.2,452.3 L1540.7,453.4 L1546.2,454.5 L1551.7,455.5 L1557.2,456.5 L1562.7,457.4 L1568.2,458.2 L1573.8,458.9 L1579.3,459.6 L1584.8,460.2 L1590.3,460.7" fill="none" stroke="#000" stroke-width="4.6" stroke-linecap="round" stroke-linejoin="round" stroke-dasharray="12 9.8"/>
<path d="M934.3,285.0 L939.8,276.9 L945.3,268.5 L950.8,260.0 L956.3,251.4 L961.9,242.8 L967.4,234.1 L972.9,225.6 L978.4,217.1 L983.9,208.8 L989.4,200.8 L994.9,193.1 L1000.4,185.6 L1006.0,178.4 L1011.5,171.6 L1017.0,165.2 L1022.5,159.1 L1028.0,153.4 L1033.5,148.2 L1039.0,143.3 L1044.5,138.9 L1050.1,134.9 L1055.6,131.3 L1061.1,128.1 L1066.6,125.4 L1072.1,123.0 L1077.6,121.0 L1083.1,119.5 L1088.6,118.3 L1094.2,117.4 L1099.7,116.9 L1105.2,116.8 L1110.7,117.0 L1116.2,117.5 L1121.7,118.3 L1127.2,119.4 L1132.8,120.7 L1138.3,122.3 L1143.8,124.2 L1149.3,126.3 L1154.8,128.6 L1160.3,131.0 L1165.8,133.7 L1171.3,136.6 L1176.9,139.6 L1182.4,142.8 L1187.9,146.2 L1193.4,149.7 L1198.9,153.4 L1204.4,157.2 L1209.9,161.2 L1215.4,165.3 L1221.0,169.5 L1226.5,173.9 L1232.0,178.4 L1237.5,183.0 L1243.0,187.6 L1248.5,192.4 L1254.0,197.3 L1259.5,202.3 L1265.1,207.3 L1270.6,212.3 L1276.1,217.3 L1281.6,222.2 L1287.1,227.1 L1292.6,231.9 L1298.1,236.9 L1303.6,241.9 L1309.1,247.1 L1314.7,252.4 L1320.2,257.7 L1325.7,263.1 L1331.2,268.5 L1336.7,274.0 L1342.2,279.3 L1347.7,284.6 L1353.2,289.9 L1358.8,295.0 L1364.3,300.1 L1369.8,305.1 L1375.3,310.0 L1380.8,314.8 L1386.3,319.6 L1391.8,324.3 L1397.3,329.0 L1402.9,333.5 L1408.4,338.0 L1413.9,342.4 L1419.4,346.7 L1424.9,350.9 L1430.4,355.1 L1435.9,359.1 L1441.5,363.0 L1447.0,366.9 L1452.5,370.7 L1458.0,374.3 L1463.5,377.9 L1469.0,381.4 L1474.5,384.8 L1480.0,388.1 L1485.6,391.3 L1491.1,394.3 L1496.6,397.3 L1502.1,400.2 L1507.6,403.0 L1513.1,405.7 L1518.6,408.3 L1524.1,410.7 L1529.6,413.1 L1535.2,415.4 L1540.7,417.6 L1546.2,419.7 L1551.7,421.6 L1557.2,423.5 L1562.7,425.3 L1568.2,427.0 L1573.8,428.5 L1579.3,430.0 L1584.8,431.4 L1590.3,432.6" fill="none" stroke="#d00325" stroke-width="4.6" stroke-linecap="round" stroke-linejoin="round" stroke-dasharray="12 9.8"/>
<path d="M1058.9,226.9 L1002,303" stroke="#000" stroke-width="4" stroke-linecap="round" fill="none"/>
<path d="M992.8,316.6 L995.4,295.8 L1011.4,308.2 Z" fill="#000"/>
<path d="M120.8,872.6 L126.3,862.9 L131.8,853.2 L137.3,843.6 L142.8,834.1 L148.4,824.7 L153.9,815.4 L159.4,806.4 L164.9,797.5 L170.4,788.9 L175.9,780.5 L181.4,772.4 L186.9,764.6 L192.5,757.1 L198.0,749.9 L203.5,743.0 L209.0,736.5 L214.5,730.3 L220.0,724.6 L225.5,719.1 L231.0,714.1 L236.6,709.5 L242.1,705.3 L247.6,701.4 L253.1,698.0 L258.6,695.0 L264.1,692.4 L269.6,690.2 L275.1,688.4 L280.7,687.0 L286.2,685.9 L291.7,685.3 L297.2,685.0 L302.7,685.2 L308.2,685.6 L313.7,686.5 L319.3,687.6 L324.8,689.2 L330.3,691.0 L335.8,693.1 L341.3,695.6 L346.8,698.3 L352.3,701.3 L357.8,704.5 L363.4,708.0 L368.9,711.8 L374.4,715.7 L379.9,719.9 L385.4,724.2 L390.9,728.8 L396.4,733.5 L401.9,738.4 L407.5,743.4 L413.0,748.5 L418.5,753.7 L424.0,759.1 L429.5,764.5 L435.0,770.1 L440.5,775.7 L446.0,781.4 L451.6,787.1 L457.1,792.8 L462.6,798.6 L468.1,804.4 L473.6,810.3 L479.1,816.1 L484.6,822.0 L490.1,827.8 L495.6,833.7 L501.2,839.5 L506.7,845.3 L512.2,851.1 L517.7,856.8 L523.2,862.6 L528.7,868.2 L534.2,873.9 L539.7,879.5 L545.3,885.0 L550.8,890.5 L556.3,895.9 L561.8,901.3 L567.3,906.6 L572.8,911.9 L578.3,917.1 L583.9,922.2 L589.4,927.3 L594.9,932.3 L600.4,937.2 L605.9,942.0 L611.4,946.8 L616.9,951.4 L622.4,956.0 L628.0,960.5 L633.5,964.8 L639.0,969.1 L644.5,973.2 L650.0,977.3 L655.5,981.2 L661.0,985.0 L666.5,988.7 L672.1,992.2 L677.6,995.7 L683.1,999.0 L688.6,1002.1 L694.1,1005.2 L699.6,1008.1 L705.1,1010.9 L710.6,1013.6 L716.1,1016.1 L721.7,1018.6 L727.2,1020.9 L732.7,1023.0 L738.2,1025.1 L743.7,1027.1 L749.2,1028.9 L754.7,1030.6 L760.3,1032.2 L765.8,1033.7 L771.3,1035.1 L776.8,1036.3" fill="none" stroke="#5f5f5f" stroke-width="4.4" stroke-linecap="round" stroke-linejoin="round" stroke-dasharray="0 8.77"/>
<path d="M120.8,873.9 L126.3,864.2 L131.8,854.6 L137.3,845.0 L142.8,835.5 L148.4,826.2 L153.9,817.0 L159.4,808.0 L164.9,799.2 L170.4,790.7 L175.9,782.4 L181.4,774.3 L186.9,766.5 L192.5,759.1 L198.0,751.9 L203.5,745.1 L209.0,738.7 L214.5,732.6 L220.0,726.9 L225.5,721.5 L231.0,716.6 L236.6,712.0 L242.1,707.8 L247.6,704.0 L253.1,700.6 L258.6,697.7 L264.1,695.1 L269.6,692.9 L275.1,691.1 L280.7,689.7 L286.2,688.7 L291.7,688.1 L297.2,687.9 L302.7,688.0 L308.2,688.4 L313.7,689.3 L319.3,690.4 L324.8,691.9 L330.3,693.7 L335.8,695.8 L341.3,698.2 L346.8,700.9 L352.3,703.8 L357.8,707.0 L363.4,710.5 L368.9,714.2 L374.4,718.1 L379.9,722.2 L385.4,726.5 L390.9,730.9 L396.4,735.6 L401.9,740.4 L407.5,745.3 L413.0,750.4 L418.5,755.6 L424.0,760.9 L429.5,766.3 L435.0,771.7 L440.5,777.3 L446.0,782.9 L451.6,788.6 L457.1,794.3 L462.6,800.0 L468.1,805.8 L473.6,811.6 L479.1,817.4 L484.6,823.2 L490.1,829.1 L495.6,834.9 L501.2,840.7 L506.7,846.4 L512.2,852.2 L517.7,857.9 L523.2,863.6 L528.7,869.3 L534.2,874.9 L539.7,880.5 L545.3,886.0 L550.8,891.5 L556.3,896.9 L561.8,902.3 L567.3,907.6 L572.8,912.8 L578.3,918.0 L583.9,923.2 L589.4,928.2 L594.9,933.2 L600.4,938.1 L605.9,943.0 L611.4,947.7 L616.9,952.4 L622.4,956.9 L628.0,961.4 L633.5,965.8 L639.0,970.0 L644.5,974.2 L650.0,978.2 L655.5,982.1 L661.0,985.9 L666.5,989.6 L672.1,993.2 L677.6,996.6 L683.1,999.9 L688.6,1003.1 L694.1,1006.1 L699.6,1009.0 L705.1,1011.8 L710.6,1014.5 L716.1,1017.1 L721.7,1019.5 L727.2,1021.8 L732.7,1024.0 L738.2,1026.1 L743.7,1028.0 L749.2,1029.8 L754.7,1031.5 L760.3,1033.2 L765.8,1034.6 L771.3,1036.0 L776.8,1037.3" fill="none" stroke="#5f5f5f" stroke-width="4.6" stroke-linecap="round" stroke-linejoin="round" stroke-dasharray="12 9.8"/>
<path d="M120.8,874.6 L126.3,864.9 L131.8,855.2 L137.3,845.6 L142.8,836.2 L148.4,826.8 L153.9,817.6 L159.4,808.6 L164.9,799.9 L170.4,791.3 L175.9,783.0 L181.4,774.9 L186.9,767.2 L192.5,759.7 L198.0,752.6 L203.5,745.8 L209.0,739.3 L214.5,733.2 L220.0,727.5 L225.5,722.1 L231.0,717.2 L236.6,712.6 L242.1,708.4 L247.6,704.6 L253.1,701.3 L258.6,698.3 L264.1,695.7 L269.6,693.5 L275.1,691.8 L280.7,690.4 L286.2,689.4 L291.7,688.7 L297.2,688.5 L302.7,688.6 L308.2,689.1 L313.7,689.9 L319.3,691.0 L324.8,692.5 L330.3,694.3 L335.8,696.4 L341.3,698.8 L346.8,701.5 L352.3,704.5 L357.8,707.7 L363.4,711.1 L368.9,714.8 L374.4,718.7 L379.9,722.8 L385.4,727.1 L390.9,731.6 L396.4,736.2 L401.9,741.0 L407.5,745.9 L413.0,751.0 L418.5,756.2 L424.0,761.5 L429.5,766.9 L435.0,772.4 L440.5,777.9 L446.0,783.5 L451.6,789.2 L457.1,794.9 L462.6,800.7 L468.1,806.4 L473.6,812.2 L479.1,818.0 L484.6,823.9 L490.1,829.7 L495.6,835.5 L501.2,841.3 L506.7,847.1 L512.2,852.8 L517.7,858.6 L523.2,864.3 L528.7,869.9 L534.2,875.5 L539.7,881.1 L545.3,886.6 L550.8,892.1 L556.3,897.5 L561.8,902.9 L567.3,908.2 L572.8,913.5 L578.3,918.7 L583.9,923.8 L589.4,928.9 L594.9,933.8 L600.4,938.8 L605.9,943.6 L611.4,948.3 L616.9,953.0 L622.4,957.6 L628.0,962.0 L633.5,966.4 L639.0,970.7 L644.5,974.8 L650.0,978.8 L655.5,982.8 L661.0,986.6 L666.5,990.2 L672.1,993.8 L677.6,997.2 L683.1,1000.5 L688.6,1003.7 L694.1,1006.8 L699.6,1009.7 L705.1,1012.5 L710.6,1015.1 L716.1,1017.7 L721.7,1020.1 L727.2,1022.4 L732.7,1024.6 L738.2,1026.7 L743.7,1028.6 L749.2,1030.5 L754.7,1032.2 L760.3,1033.8 L765.8,1035.3 L771.3,1036.6 L776.8,1037.9" fill="none" stroke="#5f5f5f" stroke-width="4.2" stroke-linecap="round" stroke-linejoin="round"/>
<path d="M120.8,875.2 L126.3,865.5 L131.8,855.8 L137.3,846.3 L142.8,836.8 L148.4,827.4 L153.9,818.3 L159.4,809.3 L164.9,800.5 L170.4,791.9 L175.9,783.6 L181.4,775.6 L186.9,767.8 L192.5,760.3 L198.0,753.2 L203.5,746.4 L209.0,739.9 L214.5,733.8 L220.0,728.1 L225.5,722.8 L231.0,717.8 L236.6,713.2 L242.1,709.1 L247.6,705.3 L253.1,701.9 L258.6,698.9 L264.1,696.3 L269.6,694.2 L275.1,692.4 L280.7,691.0 L286.2,690.0 L291.7,689.4 L297.2,689.1 L302.7,689.2 L308.2,689.7 L313.7,690.5 L319.3,691.7 L324.8,693.2 L330.3,695.0 L335.8,697.1 L341.3,699.5 L346.8,702.1 L352.3,705.1 L357.8,708.3 L363.4,711.7 L368.9,715.4 L374.4,719.3 L379.9,723.4 L385.4,727.7 L390.9,732.2 L396.4,736.8 L401.9,741.6 L407.5,746.6 L413.0,751.6 L418.5,756.8 L424.0,762.1 L429.5,767.5 L435.0,773.0 L440.5,778.5 L446.0,784.1 L451.6,789.8 L457.1,795.5 L462.6,801.3 L468.1,807.1 L473.6,812.9 L479.1,818.7 L484.6,824.5 L490.1,830.3 L495.6,836.1 L501.2,841.9 L506.7,847.7 L512.2,853.5 L517.7,859.2 L523.2,864.9 L528.7,870.5 L534.2,876.2 L539.7,881.7 L545.3,887.3 L550.8,892.7 L556.3,898.2 L561.8,903.5 L567.3,908.8 L572.8,914.1 L578.3,919.3 L583.9,924.4 L589.4,929.5 L594.9,934.5 L600.4,939.4 L605.9,944.2 L611.4,949.0 L616.9,953.6 L622.4,958.2 L628.0,962.7 L633.5,967.0 L639.0,971.3 L644.5,975.4 L650.0,979.5 L655.5,983.4 L661.0,987.2 L666.5,990.9 L672.1,994.4 L677.6,997.9 L683.1,1001.2 L688.6,1004.3 L694.1,1007.4 L699.6,1010.3 L705.1,1013.1 L710.6,1015.8 L716.1,1018.3 L721.7,1020.7 L727.2,1023.1 L732.7,1025.2 L738.2,1027.3 L743.7,1029.3 L749.2,1031.1 L754.7,1032.8 L760.3,1034.4 L765.8,1035.9 L771.3,1037.3 L776.8,1038.5" fill="none" stroke="#000" stroke-width="4.6" stroke-linecap="round" stroke-linejoin="round" stroke-dasharray="12.9 8.8 0 8.9"/>
<path d="M120.8,875.9 L126.3,866.2 L131.8,856.6 L137.3,847.1 L142.8,837.6 L148.4,828.3 L153.9,819.2 L159.4,810.3 L164.9,801.5 L170.4,793.0 L175.9,784.8 L181.4,776.8 L186.9,769.1 L192.5,761.7 L198.0,754.6 L203.5,747.9 L209.0,741.5 L214.5,735.5 L220.0,729.8 L225.5,724.5 L231.0,719.6 L236.6,715.1 L242.1,711.0 L247.6,707.2 L253.1,703.9 L258.6,701.0 L264.1,698.4 L269.6,696.3 L275.1,694.5 L280.7,693.2 L286.2,692.2 L291.7,691.6 L297.2,691.3 L302.7,691.4 L308.2,691.9 L313.7,692.7 L319.3,693.8 L324.8,695.3 L330.3,697.0 L335.8,699.1 L341.3,701.5 L346.8,704.1 L352.3,707.0 L357.8,710.2 L363.4,713.6 L368.9,717.2 L374.4,721.0 L379.9,725.1 L385.4,729.3 L390.9,733.7 L396.4,738.3 L401.9,743.0 L407.5,747.9 L413.0,752.9 L418.5,758.0 L424.0,763.3 L429.5,768.6 L435.0,774.0 L440.5,779.5 L446.0,785.1 L451.6,790.7 L457.1,796.3 L462.6,802.1 L468.1,807.8 L473.6,813.5 L479.1,819.3 L484.6,825.1 L490.1,830.9 L495.6,836.7 L501.2,842.5 L506.7,848.2 L512.2,853.9 L517.7,859.7 L523.2,865.3 L528.7,871.0 L534.2,876.6 L539.7,882.1 L545.3,887.7 L550.8,893.1 L556.3,898.5 L561.8,903.9 L567.3,909.2 L572.8,914.4 L578.3,919.6 L583.9,924.8 L589.4,929.8 L594.9,934.8 L600.4,939.7 L605.9,944.5 L611.4,949.3 L616.9,953.9 L622.4,958.5 L628.0,963.0 L633.5,967.3 L639.0,971.6 L644.5,975.7 L650.0,979.8 L655.5,983.7 L661.0,987.5 L666.5,991.2 L672.1,994.7 L677.6,998.2 L683.1,1001.5 L688.6,1004.6 L694.1,1007.7 L699.6,1010.6 L705.1,1013.4 L710.6,1016.1 L716.1,1018.6 L721.7,1021.1 L727.2,1023.4 L732.7,1025.5 L738.2,1027.6 L743.7,1029.6 L749.2,1031.4 L754.7,1033.1 L760.3,1034.7 L765.8,1036.2 L771.3,1037.6 L776.8,1038.8" fill="none" stroke="#000" stroke-width="4.6" stroke-linecap="round" stroke-linejoin="round" stroke-dasharray="0 8.77"/>
<path d="M120.8,876.4 L126.3,866.8 L131.8,857.2 L137.3,847.7 L142.8,838.3 L148.4,829.1 L153.9,820.0 L159.4,811.1 L164.9,802.4 L170.4,793.9 L175.9,785.7 L181.4,777.7 L186.9,770.1 L192.5,762.7 L198.0,755.7 L203.5,749.0 L209.0,742.6 L214.5,736.6 L220.0,731.0 L225.5,725.8 L231.0,720.9 L236.6,716.4 L242.1,712.3 L247.6,708.6 L253.1,705.3 L258.6,702.4 L264.1,699.9 L269.6,697.8 L275.1,696.1 L280.7,694.7 L286.2,693.7 L291.7,693.1 L297.2,692.9 L302.7,693.0 L308.2,693.4 L313.7,694.2 L319.3,695.4 L324.8,696.8 L330.3,698.5 L335.8,700.6 L341.3,702.9 L346.8,705.5 L352.3,708.4 L357.8,711.5 L363.4,714.9 L368.9,718.5 L374.4,722.3 L379.9,726.3 L385.4,730.4 L390.9,734.8 L396.4,739.4 L401.9,744.0 L407.5,748.9 L413.0,753.8 L418.5,758.9 L424.0,764.1 L429.5,769.4 L435.0,774.8 L440.5,780.3 L446.0,785.8 L451.6,791.4 L457.1,797.0 L462.6,802.7 L468.1,808.4 L473.6,814.1 L479.1,819.9 L484.6,825.6 L490.1,831.4 L495.6,837.2 L501.2,842.9 L506.7,848.7 L512.2,854.4 L517.7,860.1 L523.2,865.7 L528.7,871.4 L534.2,877.0 L539.7,882.5 L545.3,888.0 L550.8,893.5 L556.3,898.9 L561.8,904.2 L567.3,909.5 L572.8,914.8 L578.3,920.0 L583.9,925.1 L589.4,930.1 L594.9,935.1 L600.4,940.0 L605.9,944.9 L611.4,949.6 L616.9,954.3 L622.4,958.8 L628.0,963.3 L633.5,967.7 L639.0,971.9 L644.5,976.1 L650.0,980.1 L655.5,984.0 L661.0,987.8 L666.5,991.5 L672.1,995.1 L677.6,998.5 L683.1,1001.8 L688.6,1005.0 L694.1,1008.0 L699.6,1010.9 L705.1,1013.7 L710.6,1016.4 L716.1,1018.9 L721.7,1021.4 L727.2,1023.7 L732.7,1025.9 L738.2,1027.9 L743.7,1029.9 L749.2,1031.7 L754.7,1033.4 L760.3,1035.0 L765.8,1036.5 L771.3,1037.9 L776.8,1039.2" fill="none" stroke="#000" stroke-width="4.6" stroke-linecap="round" stroke-linejoin="round" stroke-dasharray="12 9.8"/>
<path d="M120.8,878.0 L126.3,868.5 L131.8,859.0 L137.3,849.7 L142.8,840.5 L148.4,831.4 L153.9,822.5 L159.4,813.8 L164.9,805.3 L170.4,797.0 L175.9,789.0 L181.4,781.3 L186.9,773.8 L192.5,766.7 L198.0,759.9 L203.5,753.4 L209.0,747.3 L214.5,741.5 L220.0,736.1 L225.5,731.1 L231.0,726.4 L236.6,722.1 L242.1,718.2 L247.6,714.6 L253.1,711.4 L258.6,708.6 L264.1,706.2 L269.6,704.1 L275.1,702.4 L280.7,701.0 L286.2,700.0 L291.7,699.3 L297.2,699.0 L302.7,699.0 L308.2,699.4 L313.7,700.0 L319.3,701.0 L324.8,702.2 L330.3,703.8 L335.8,705.6 L341.3,707.7 L346.8,710.1 L352.3,712.7 L357.8,715.6 L363.4,718.7 L368.9,722.1 L374.4,725.6 L379.9,729.4 L385.4,733.4 L390.9,737.5 L396.4,741.8 L401.9,746.3 L407.5,751.0 L413.0,755.8 L418.5,760.7 L424.0,765.7 L429.5,770.9 L435.0,776.2 L440.5,781.5 L446.0,786.9 L451.6,792.4 L457.1,798.0 L462.6,803.6 L468.1,809.2 L473.6,814.9 L479.1,820.6 L484.6,826.3 L490.1,832.1 L495.6,837.8 L501.2,843.6 L506.7,849.3 L512.2,855.0 L517.7,860.7 L523.2,866.3 L528.7,872.0 L534.2,877.6 L539.7,883.1 L545.3,888.6 L550.8,894.1 L556.3,899.5 L561.8,904.8 L567.3,910.1 L572.8,915.4 L578.3,920.6 L583.9,925.7 L589.4,930.7 L594.9,935.7 L600.4,940.6 L605.9,945.5 L611.4,950.2 L616.9,954.9 L622.4,959.4 L628.0,963.9 L633.5,968.3 L639.0,972.5 L644.5,976.7 L650.0,980.7 L655.5,984.6 L661.0,988.4 L666.5,992.1 L672.1,995.7 L677.6,999.1 L683.1,1002.4 L688.6,1005.6 L694.1,1008.6 L699.6,1011.6 L705.1,1014.3 L710.6,1017.0 L716.1,1019.6 L721.7,1022.0 L727.2,1024.3 L732.7,1026.5 L738.2,1028.6 L743.7,1030.5 L749.2,1032.3 L754.7,1034.1 L760.3,1035.7 L765.8,1037.1 L771.3,1038.5 L776.8,1039.8" fill="none" stroke="#000" stroke-width="4.8" stroke-linecap="round" stroke-linejoin="round"/>
<path d="M120.8,874.6 L126.3,864.9 L131.8,855.2 L137.3,845.6 L142.8,836.2 L148.4,826.8 L153.9,817.6 L159.4,808.6 L164.9,799.9 L170.4,791.3 L175.9,783.0 L181.4,774.9 L186.9,767.2 L192.5,759.7 L198.0,752.6 L203.5,745.8 L209.0,739.3 L214.5,733.2 L220.0,727.5 L225.5,722.1 L231.0,717.2 L236.6,712.6 L242.1,708.4 L247.6,704.6 L253.1,701.3 L258.6,698.3 L264.1,695.7 L269.6,693.5 L275.1,691.8 L280.7,690.4 L286.2,689.4 L291.7,688.7 L297.2,688.5 L302.7,688.6 L308.2,689.1 L313.7,689.9 L319.3,691.0 L324.8,692.5 L330.3,694.3 L335.8,696.4 L341.3,698.8 L346.8,701.5 L352.3,704.5 L357.8,707.7 L363.4,711.1 L368.9,714.8 L374.4,718.7 L379.9,722.8 L385.4,727.1 L390.9,731.6 L396.4,736.2 L401.9,741.0 L407.5,745.9 L413.0,751.0 L418.5,756.2 L424.0,761.5 L429.5,766.9 L435.0,772.4 L440.5,777.9 L446.0,783.5 L451.6,789.2 L457.1,794.9 L462.6,800.7 L468.1,806.4 L473.6,812.2 L479.1,818.0 L484.6,823.9 L490.1,829.7 L495.6,835.5 L501.2,841.3 L506.7,847.1 L512.2,852.8 L517.7,858.6 L523.2,864.3 L528.7,869.9 L534.2,875.5 L539.7,881.1 L545.3,886.6 L550.8,892.1 L556.3,897.5 L561.8,902.9 L567.3,908.2 L572.8,913.5 L578.3,918.7 L583.9,923.8 L589.4,928.9 L594.9,933.8 L600.4,938.8 L605.9,943.6 L611.4,948.3 L616.9,953.0 L622.4,957.6 L628.0,962.0 L633.5,966.4 L639.0,970.7 L644.5,974.8 L650.0,978.8 L655.5,982.8 L661.0,986.6 L666.5,990.2 L672.1,993.8 L677.6,997.2 L683.1,1000.5 L688.6,1003.7 L694.1,1006.8 L699.6,1009.7 L705.1,1012.5 L710.6,1015.1 L716.1,1017.7 L721.7,1020.1 L727.2,1022.4 L732.7,1024.6 L738.2,1026.7 L743.7,1028.6 L749.2,1030.5 L754.7,1032.2 L760.3,1033.8 L765.8,1035.3 L771.3,1036.6 L776.8,1037.9" fill="none" stroke="#d00325" stroke-width="4.6" stroke-linecap="round" stroke-linejoin="round" stroke-dasharray="12 9.8"/>
<path d="M934.3,892.1 L939.8,882.7 L945.3,873.5 L950.8,864.3 L956.3,855.2 L961.9,846.2 L967.4,837.5 L972.9,828.9 L978.4,820.5 L983.9,812.4 L989.4,804.5 L994.9,797.0 L1000.4,789.7 L1006.0,782.8 L1011.5,776.2 L1017.0,770.0 L1022.5,764.2 L1028.0,758.8 L1033.5,753.8 L1039.0,749.2 L1044.5,745.0 L1050.1,741.2 L1055.6,737.9 L1061.1,734.9 L1066.6,732.3 L1072.1,730.1 L1077.6,728.2 L1083.1,726.7 L1088.6,725.5 L1094.2,724.7 L1099.7,724.2 L1105.2,724.0 L1110.7,724.1 L1116.2,724.6 L1121.7,725.3 L1127.2,726.4 L1132.8,727.7 L1138.3,729.3 L1143.8,731.1 L1149.3,733.2 L1154.8,735.6 L1160.3,738.2 L1165.8,740.9 L1171.3,743.9 L1176.9,747.1 L1182.4,750.4 L1187.9,754.0 L1193.4,757.7 L1198.9,761.5 L1204.4,765.5 L1209.9,769.7 L1215.4,773.9 L1221.0,778.3 L1226.5,782.8 L1232.0,787.4 L1237.5,792.1 L1243.0,796.9 L1248.5,801.8 L1254.0,806.7 L1259.5,811.7 L1265.1,816.7 L1270.6,821.8 L1276.1,826.8 L1281.6,831.9 L1287.1,837.0 L1292.6,842.0 L1298.1,847.0 L1303.6,852.0 L1309.1,857.0 L1314.7,862.0 L1320.2,866.9 L1325.7,871.8 L1331.2,876.7 L1336.7,881.6 L1342.2,886.5 L1347.7,891.4 L1353.2,896.4 L1358.8,901.3 L1364.3,906.3 L1369.8,911.2 L1375.3,916.2 L1380.8,921.0 L1386.3,925.9 L1391.8,930.7 L1397.3,935.4 L1402.9,940.1 L1408.4,944.7 L1413.9,949.3 L1419.4,953.8 L1424.9,958.2 L1430.4,962.6 L1435.9,966.8 L1441.5,971.0 L1447.0,975.1 L1452.5,979.0 L1458.0,982.9 L1463.5,986.7 L1469.0,990.4 L1474.5,994.0 L1480.0,997.5 L1485.6,1000.8 L1491.1,1004.1 L1496.6,1007.2 L1502.1,1010.2 L1507.6,1013.1 L1513.1,1015.8 L1518.6,1018.5 L1524.1,1021.0 L1529.6,1023.5 L1535.2,1025.8 L1540.7,1028.0 L1546.2,1030.2 L1551.7,1032.2 L1557.2,1034.1 L1562.7,1036.0 L1568.2,1037.8 L1573.8,1039.5 L1579.3,1041.1 L1584.8,1042.7 L1590.3,1044.2" fill="none" stroke="#5f5f5f" stroke-width="4.4" stroke-linecap="round" stroke-linejoin="round" stroke-dasharray="0 8.77"/>
<path d="M934.3,889.6 L939.8,880.6 L945.3,871.7 L950.8,862.7 L956.3,853.8 L961.9,845.1 L967.4,836.4 L972.9,827.9 L978.4,819.6 L983.9,811.5 L989.4,803.7 L994.9,796.1 L1000.4,788.9 L1006.0,782.0 L1011.5,775.5 L1017.0,769.4 L1022.5,763.6 L1028.0,758.3 L1033.5,753.5 L1039.0,749.1 L1044.5,745.1 L1050.1,741.6 L1055.6,738.5 L1061.1,735.7 L1066.6,733.4 L1072.1,731.4 L1077.6,729.8 L1083.1,728.5 L1088.6,727.5 L1094.2,726.8 L1099.7,726.5 L1105.2,726.4 L1110.7,726.7 L1116.2,727.2 L1121.7,728.0 L1127.2,729.1 L1132.8,730.5 L1138.3,732.1 L1143.8,734.0 L1149.3,736.2 L1154.8,738.5 L1160.3,741.1 L1165.8,743.9 L1171.3,746.9 L1176.9,750.1 L1182.4,753.4 L1187.9,757.0 L1193.4,760.7 L1198.9,764.6 L1204.4,768.6 L1209.9,772.8 L1215.4,777.1 L1221.0,781.6 L1226.5,786.1 L1232.0,790.8 L1237.5,795.6 L1243.0,800.5 L1248.5,805.4 L1254.0,810.4 L1259.5,815.5 L1265.1,820.6 L1270.6,825.7 L1276.1,830.8 L1281.6,835.8 L1287.1,840.9 L1292.6,845.9 L1298.1,850.8 L1303.6,855.7 L1309.1,860.5 L1314.7,865.2 L1320.2,869.9 L1325.7,874.6 L1331.2,879.3 L1336.7,884.0 L1342.2,888.8 L1347.7,893.6 L1353.2,898.4 L1358.8,903.3 L1364.3,908.2 L1369.8,913.1 L1375.3,918.1 L1380.8,923.0 L1386.3,927.8 L1391.8,932.7 L1397.3,937.5 L1402.9,942.2 L1408.4,946.9 L1413.9,951.5 L1419.4,956.1 L1424.9,960.5 L1430.4,964.9 L1435.9,969.2 L1441.5,973.5 L1447.0,977.6 L1452.5,981.6 L1458.0,985.5 L1463.5,989.3 L1469.0,993.0 L1474.5,996.6 L1480.0,1000.1 L1485.6,1003.4 L1491.1,1006.6 L1496.6,1009.6 L1502.1,1012.5 L1507.6,1015.3 L1513.1,1017.9 L1518.6,1020.4 L1524.1,1022.8 L1529.6,1025.1 L1535.2,1027.3 L1540.7,1029.4 L1546.2,1031.4 L1551.7,1033.3 L1557.2,1035.2 L1562.7,1037.0 L1568.2,1038.8 L1573.8,1040.5 L1579.3,1042.2 L1584.8,1043.8 L1590.3,1045.4" fill="none" stroke="#5f5f5f" stroke-width="4.6" stroke-linecap="round" stroke-linejoin="round" stroke-dasharray="12 9.8"/>
<path d="M934.3,886.2 L939.8,877.8 L945.3,869.2 L950.8,860.7 L956.3,852.0 L961.9,843.5 L967.4,835.0 L972.9,826.6 L978.4,818.4 L983.9,810.4 L989.4,802.6 L994.9,795.1 L1000.4,787.9 L1006.0,781.0 L1011.5,774.5 L1017.0,768.5 L1022.5,762.9 L1028.0,757.7 L1033.5,753.1 L1039.0,748.9 L1044.5,745.2 L1050.1,742.0 L1055.6,739.2 L1061.1,736.9 L1066.6,734.9 L1072.1,733.2 L1077.6,731.9 L1083.1,730.9 L1088.6,730.1 L1094.2,729.7 L1099.7,729.5 L1105.2,729.7 L1110.7,730.0 L1116.2,730.7 L1121.7,731.6 L1127.2,732.8 L1132.8,734.3 L1138.3,735.9 L1143.8,737.9 L1149.3,740.0 L1154.8,742.4 L1160.3,745.0 L1165.8,747.8 L1171.3,750.8 L1176.9,754.1 L1182.4,757.5 L1187.9,761.0 L1193.4,764.8 L1198.9,768.7 L1204.4,772.8 L1209.9,777.0 L1215.4,781.4 L1221.0,785.9 L1226.5,790.6 L1232.0,795.3 L1237.5,800.2 L1243.0,805.2 L1248.5,810.3 L1254.0,815.4 L1259.5,820.5 L1265.1,825.7 L1270.6,830.9 L1276.1,836.0 L1281.6,841.1 L1287.1,846.1 L1292.6,851.0 L1298.1,855.8 L1303.6,860.5 L1309.1,865.1 L1314.7,869.6 L1320.2,874.0 L1325.7,878.4 L1331.2,882.8 L1336.7,887.3 L1342.2,891.8 L1347.7,896.4 L1353.2,901.1 L1358.8,905.9 L1364.3,910.7 L1369.8,915.7 L1375.3,920.6 L1380.8,925.5 L1386.3,930.4 L1391.8,935.3 L1397.3,940.2 L1402.9,945.0 L1408.4,949.8 L1413.9,954.5 L1419.4,959.1 L1424.9,963.6 L1430.4,968.1 L1435.9,972.5 L1441.5,976.8 L1447.0,981.0 L1452.5,985.0 L1458.0,989.0 L1463.5,992.8 L1469.0,996.5 L1474.5,1000.1 L1480.0,1003.5 L1485.6,1006.8 L1491.1,1009.9 L1496.6,1012.8 L1502.1,1015.6 L1507.6,1018.2 L1513.1,1020.7 L1518.6,1023.0 L1524.1,1025.2 L1529.6,1027.3 L1535.2,1029.3 L1540.7,1031.2 L1546.2,1033.1 L1551.7,1034.9 L1557.2,1036.6 L1562.7,1038.3 L1568.2,1040.0 L1573.8,1041.8 L1579.3,1043.5 L1584.8,1045.3 L1590.3,1047.1" fill="none" stroke="#5f5f5f" stroke-width="4.2" stroke-linecap="round" stroke-linejoin="round"/>
<path d="M934.3,881.8 L939.8,873.3 L945.3,864.9 L950.8,856.7 L956.3,848.6 L961.9,840.8 L967.4,833.1 L972.9,825.6 L978.4,818.4 L983.9,811.4 L989.4,804.7 L994.9,798.3 L1000.4,792.1 L1006.0,786.3 L1011.5,780.7 L1017.0,775.5 L1022.5,770.6 L1028.0,766.1 L1033.5,761.8 L1039.0,758.0 L1044.5,754.4 L1050.1,751.2 L1055.6,748.4 L1061.1,745.9 L1066.6,743.7 L1072.1,741.9 L1077.6,740.4 L1083.1,739.2 L1088.6,738.4 L1094.2,737.9 L1099.7,737.7 L1105.2,737.9 L1110.7,738.3 L1116.2,739.0 L1121.7,740.0 L1127.2,741.3 L1132.8,742.8 L1138.3,744.6 L1143.8,746.7 L1149.3,749.0 L1154.8,751.5 L1160.3,754.2 L1165.8,757.1 L1171.3,760.2 L1176.9,763.5 L1182.4,767.0 L1187.9,770.6 L1193.4,774.3 L1198.9,778.2 L1204.4,782.2 L1209.9,786.4 L1215.4,790.6 L1221.0,795.0 L1226.5,799.4 L1232.0,803.9 L1237.5,808.5 L1243.0,813.2 L1248.5,817.9 L1254.0,822.7 L1259.5,827.5 L1265.1,832.3 L1270.6,837.2 L1276.1,842.1 L1281.6,847.1 L1287.1,852.0 L1292.6,857.0 L1298.1,861.9 L1303.6,866.9 L1309.1,871.8 L1314.7,876.8 L1320.2,881.7 L1325.7,886.6 L1331.2,891.4 L1336.7,896.3 L1342.2,901.1 L1347.7,905.9 L1353.2,910.6 L1358.8,915.3 L1364.3,919.9 L1369.8,924.5 L1375.3,929.1 L1380.8,933.6 L1386.3,938.1 L1391.8,942.5 L1397.3,946.8 L1402.9,951.2 L1408.4,955.4 L1413.9,959.6 L1419.4,963.7 L1424.9,967.8 L1430.4,971.7 L1435.9,975.6 L1441.5,979.5 L1447.0,983.2 L1452.5,986.9 L1458.0,990.5 L1463.5,994.0 L1469.0,997.4 L1474.5,1000.8 L1480.0,1004.0 L1485.6,1007.2 L1491.1,1010.3 L1496.6,1013.2 L1502.1,1016.1 L1507.6,1018.9 L1513.1,1021.6 L1518.6,1024.2 L1524.1,1026.7 L1529.6,1029.1 L1535.2,1031.4 L1540.7,1033.6 L1546.2,1035.7 L1551.7,1037.6 L1557.2,1039.5 L1562.7,1041.3 L1568.2,1043.0 L1573.8,1044.5 L1579.3,1046.0 L1584.8,1047.3 L1590.3,1048.6" fill="none" stroke="#000" stroke-width="4.6" stroke-linecap="round" stroke-linejoin="round" stroke-dasharray="12.9 8.8 0 8.9"/>
<path d="M934.3,876.8 L939.8,869.0 L945.3,861.2 L950.8,853.6 L956.3,846.2 L961.9,838.9 L967.4,831.8 L972.9,824.9 L978.4,818.2 L983.9,811.7 L989.4,805.5 L994.9,799.5 L1000.4,793.8 L1006.0,788.3 L1011.5,783.2 L1017.0,778.3 L1022.5,773.7 L1028.0,769.5 L1033.5,765.5 L1039.0,761.9 L1044.5,758.6 L1050.1,755.6 L1055.6,752.9 L1061.1,750.6 L1066.6,748.6 L1072.1,746.9 L1077.6,745.5 L1083.1,744.4 L1088.6,743.7 L1094.2,743.2 L1099.7,743.1 L1105.2,743.3 L1110.7,743.7 L1116.2,744.5 L1121.7,745.5 L1127.2,746.7 L1132.8,748.3 L1138.3,750.1 L1143.8,752.1 L1149.3,754.4 L1154.8,756.9 L1160.3,759.6 L1165.8,762.5 L1171.3,765.6 L1176.9,768.9 L1182.4,772.3 L1187.9,776.0 L1193.4,779.7 L1198.9,783.7 L1204.4,787.7 L1209.9,791.9 L1215.4,796.2 L1221.0,800.6 L1226.5,805.1 L1232.0,809.7 L1237.5,814.4 L1243.0,819.1 L1248.5,823.9 L1254.0,828.7 L1259.5,833.6 L1265.1,838.6 L1270.6,843.5 L1276.1,848.5 L1281.6,853.5 L1287.1,858.5 L1292.6,863.5 L1298.1,868.5 L1303.6,873.5 L1309.1,878.4 L1314.7,883.4 L1320.2,888.3 L1325.7,893.2 L1331.2,898.1 L1336.7,902.9 L1342.2,907.7 L1347.7,912.4 L1353.2,917.1 L1358.8,921.7 L1364.3,926.2 L1369.8,930.7 L1375.3,935.2 L1380.8,939.6 L1386.3,943.9 L1391.8,948.1 L1397.3,952.3 L1402.9,956.4 L1408.4,960.4 L1413.9,964.4 L1419.4,968.2 L1424.9,972.0 L1430.4,975.8 L1435.9,979.4 L1441.5,983.0 L1447.0,986.5 L1452.5,989.9 L1458.0,993.2 L1463.5,996.5 L1469.0,999.7 L1474.5,1002.8 L1480.0,1005.8 L1485.6,1008.7 L1491.1,1011.6 L1496.6,1014.4 L1502.1,1017.1 L1507.6,1019.8 L1513.1,1022.4 L1518.6,1024.9 L1524.1,1027.3 L1529.6,1029.7 L1535.2,1032.0 L1540.7,1034.2 L1546.2,1036.4 L1551.7,1038.5 L1557.2,1040.5 L1562.7,1042.5 L1568.2,1044.4 L1573.8,1046.2 L1579.3,1048.0 L1584.8,1049.7 L1590.3,1051.4" fill="none" stroke="#000" stroke-width="4.6" stroke-linecap="round" stroke-linejoin="round" stroke-dasharray="0 8.77"/>
<path d="M934.3,872.1 L939.8,864.4 L945.3,856.9 L950.8,849.6 L956.3,842.5 L961.9,835.5 L967.4,828.8 L972.9,822.3 L978.4,816.0 L983.9,810.0 L989.4,804.3 L994.9,798.8 L1000.4,793.6 L1006.0,788.7 L1011.5,784.1 L1017.0,779.8 L1022.5,775.8 L1028.0,772.2 L1033.5,768.8 L1039.0,765.8 L1044.5,763.1 L1050.1,760.7 L1055.6,758.7 L1061.1,756.9 L1066.6,755.5 L1072.1,754.4 L1077.6,753.6 L1083.1,753.1 L1088.6,752.9 L1094.2,753.0 L1099.7,753.4 L1105.2,754.1 L1110.7,755.0 L1116.2,756.2 L1121.7,757.7 L1127.2,759.3 L1132.8,761.3 L1138.3,763.4 L1143.8,765.8 L1149.3,768.4 L1154.8,771.2 L1160.3,774.1 L1165.8,777.3 L1171.3,780.6 L1176.9,784.1 L1182.4,787.7 L1187.9,791.4 L1193.4,795.3 L1198.9,799.3 L1204.4,803.4 L1209.9,807.7 L1215.4,812.0 L1221.0,816.4 L1226.5,820.8 L1232.0,825.4 L1237.5,829.9 L1243.0,834.6 L1248.5,839.3 L1254.0,844.0 L1259.5,848.7 L1265.1,853.5 L1270.6,858.3 L1276.1,863.0 L1281.6,867.8 L1287.1,872.6 L1292.6,877.4 L1298.1,882.1 L1303.6,886.9 L1309.1,891.6 L1314.7,896.3 L1320.2,900.9 L1325.7,905.5 L1331.2,910.1 L1336.7,914.6 L1342.2,919.1 L1347.7,923.5 L1353.2,927.9 L1358.8,932.2 L1364.3,936.5 L1369.8,940.7 L1375.3,944.8 L1380.8,948.9 L1386.3,952.9 L1391.8,956.9 L1397.3,960.7 L1402.9,964.5 L1408.4,968.3 L1413.9,972.0 L1419.4,975.5 L1424.9,979.1 L1430.4,982.5 L1435.9,985.9 L1441.5,989.2 L1447.0,992.5 L1452.5,995.6 L1458.0,998.7 L1463.5,1001.7 L1469.0,1004.7 L1474.5,1007.6 L1480.0,1010.4 L1485.6,1013.1 L1491.1,1015.8 L1496.6,1018.4 L1502.1,1020.9 L1507.6,1023.4 L1513.1,1025.8 L1518.6,1028.2 L1524.1,1030.4 L1529.6,1032.7 L1535.2,1034.8 L1540.7,1036.9 L1546.2,1038.9 L1551.7,1040.9 L1557.2,1042.8 L1562.7,1044.7 L1568.2,1046.5 L1573.8,1048.2 L1579.3,1049.9 L1584.8,1051.6 L1590.3,1053.1" fill="none" stroke="#000" stroke-width="4.6" stroke-linecap="round" stroke-linejoin="round" stroke-dasharray="12 9.8"/>
<path d="M934.3,866.5 L939.8,859.3 L945.3,852.3 L950.8,845.4 L956.3,838.8 L961.9,832.3 L967.4,826.1 L972.9,820.2 L978.4,814.4 L983.9,809.0 L989.4,803.8 L994.9,798.8 L1000.4,794.2 L1006.0,789.9 L1011.5,785.8 L1017.0,782.1 L1022.5,778.6 L1028.0,775.5 L1033.5,772.7 L1039.0,770.1 L1044.5,767.9 L1050.1,766.0 L1055.6,764.5 L1061.1,763.2 L1066.6,762.2 L1072.1,761.5 L1077.6,761.1 L1083.1,761.0 L1088.6,761.1 L1094.2,761.6 L1099.7,762.3 L1105.2,763.3 L1110.7,764.5 L1116.2,765.9 L1121.7,767.6 L1127.2,769.6 L1132.8,771.7 L1138.3,774.0 L1143.8,776.6 L1149.3,779.3 L1154.8,782.3 L1160.3,785.3 L1165.8,788.6 L1171.3,792.0 L1176.9,795.5 L1182.4,799.2 L1187.9,803.0 L1193.4,806.9 L1198.9,810.9 L1204.4,815.1 L1209.9,819.3 L1215.4,823.6 L1221.0,827.9 L1226.5,832.3 L1232.0,836.8 L1237.5,841.3 L1243.0,845.9 L1248.5,850.5 L1254.0,855.1 L1259.5,859.7 L1265.1,864.4 L1270.6,869.1 L1276.1,873.7 L1281.6,878.4 L1287.1,883.0 L1292.6,887.7 L1298.1,892.3 L1303.6,896.9 L1309.1,901.4 L1314.7,905.9 L1320.2,910.4 L1325.7,914.9 L1331.2,919.3 L1336.7,923.7 L1342.2,928.0 L1347.7,932.2 L1353.2,936.4 L1358.8,940.6 L1364.3,944.7 L1369.8,948.7 L1375.3,952.7 L1380.8,956.6 L1386.3,960.4 L1391.8,964.2 L1397.3,967.9 L1402.9,971.5 L1408.4,975.1 L1413.9,978.5 L1419.4,982.0 L1424.9,985.3 L1430.4,988.6 L1435.9,991.8 L1441.5,994.9 L1447.0,998.0 L1452.5,1001.0 L1458.0,1003.9 L1463.5,1006.8 L1469.0,1009.5 L1474.5,1012.2 L1480.0,1014.9 L1485.6,1017.5 L1491.1,1020.0 L1496.6,1022.4 L1502.1,1024.8 L1507.6,1027.1 L1513.1,1029.3 L1518.6,1031.5 L1524.1,1033.6 L1529.6,1035.6 L1535.2,1037.6 L1540.7,1039.5 L1546.2,1041.4 L1551.7,1043.2 L1557.2,1044.9 L1562.7,1046.6 L1568.2,1048.2 L1573.8,1049.8 L1579.3,1051.3 L1584.8,1052.8 L1590.3,1054.2" fill="none" stroke="#000" stroke-width="4.8" stroke-linecap="round" stroke-linejoin="round"/>
<path d="M934.3,894.6 L939.8,884.9 L945.3,875.3 L950.8,865.8 L956.3,856.5 L961.9,847.4 L967.4,838.5 L972.9,829.8 L978.4,821.4 L983.9,813.2 L989.4,805.4 L994.9,797.8 L1000.4,790.5 L1006.0,783.6 L1011.5,776.9 L1017.0,770.7 L1022.5,764.8 L1028.0,759.3 L1033.5,754.1 L1039.0,749.3 L1044.5,744.9 L1050.1,740.9 L1055.6,737.3 L1061.1,734.0 L1066.6,731.2 L1072.1,728.7 L1077.6,726.6 L1083.1,724.9 L1088.6,723.5 L1094.2,722.5 L1099.7,721.9 L1105.2,721.6 L1110.7,721.6 L1116.2,722.0 L1121.7,722.6 L1127.2,723.6 L1132.8,724.9 L1138.3,726.4 L1143.8,728.3 L1149.3,730.3 L1154.8,732.7 L1160.3,735.2 L1165.8,738.0 L1171.3,740.9 L1176.9,744.1 L1182.4,747.4 L1187.9,750.9 L1193.4,754.6 L1198.9,758.4 L1204.4,762.4 L1209.9,766.5 L1215.4,770.7 L1221.0,775.1 L1226.5,779.5 L1232.0,784.0 L1237.5,788.7 L1243.0,793.4 L1248.5,798.2 L1254.0,803.0 L1259.5,807.9 L1265.1,812.9 L1270.6,817.9 L1276.1,822.9 L1281.6,828.0 L1287.1,833.0 L1292.6,838.2 L1298.1,843.3 L1303.6,848.4 L1309.1,853.6 L1314.7,858.7 L1320.2,863.8 L1325.7,869.0 L1331.2,874.1 L1336.7,879.2 L1342.2,884.3 L1347.7,889.3 L1353.2,894.4 L1358.8,899.4 L1364.3,904.4 L1369.8,909.3 L1375.3,914.2 L1380.8,919.1 L1386.3,923.9 L1391.8,928.7 L1397.3,933.4 L1402.9,938.0 L1408.4,942.6 L1413.9,947.1 L1419.4,951.5 L1424.9,955.9 L1430.4,960.2 L1435.9,964.4 L1441.5,968.5 L1447.0,972.5 L1452.5,976.5 L1458.0,980.3 L1463.5,984.1 L1469.0,987.8 L1474.5,991.4 L1480.0,994.9 L1485.6,998.3 L1491.1,1001.6 L1496.6,1004.8 L1502.1,1007.9 L1507.6,1010.9 L1513.1,1013.7 L1518.6,1016.5 L1524.1,1019.2 L1529.6,1021.8 L1535.2,1024.3 L1540.7,1026.6 L1546.2,1028.9 L1551.7,1031.1 L1557.2,1033.1 L1562.7,1035.0 L1568.2,1036.8 L1573.8,1038.5 L1579.3,1040.1 L1584.8,1041.6 L1590.3,1043.0" fill="none" stroke="#d00325" stroke-width="4.6" stroke-linecap="round" stroke-linejoin="round" stroke-dasharray="12 9.8"/>
<path d="M1079.5,769 L1059,801" stroke="#000" stroke-width="4" stroke-linecap="round" fill="none"/>
<path d="M1051.4,812.4 L1052.4,792.3 L1068.7,803 Z" fill="#000"/>
<text transform="translate(-0.30,41.20) scale(1,1.07)" font-size="57" font-weight="bold" fill="#222">a</text>
<text transform="translate(115.80,502.10) scale(1,1.07)" font-size="34" font-weight="bold" text-anchor="end">0</text><text transform="translate(115.80,439.50) scale(1,1.07)" font-size="34" font-weight="bold" text-anchor="end">10</text><text transform="translate(115.80,376.90) scale(1,1.07)" font-size="34" font-weight="bold" text-anchor="end">20</text><text transform="translate(115.80,314.30) scale(1,1.07)" font-size="34" font-weight="bold" text-anchor="end">30</text><text transform="translate(115.80,251.70) scale(1,1.07)" font-size="34" font-weight="bold" text-anchor="end">40</text><text transform="translate(115.80,189.10) scale(1,1.07)" font-size="34" font-weight="bold" text-anchor="end">50</text><text transform="translate(115.80,126.50) scale(1,1.07)" font-size="34" font-weight="bold" text-anchor="end">60</text><text transform="translate(115.80,63.90) scale(1,1.07)" font-size="34" font-weight="bold" text-anchor="end">70</text><text transform="translate(159.09,525.80) scale(1,1.07)" font-size="34" font-weight="bold" text-anchor="middle">320</text><text transform="translate(236.26,525.80) scale(1,1.07)" font-size="34" font-weight="bold" text-anchor="middle">330</text><text transform="translate(313.44,525.80) scale(1,1.07)" font-size="34" font-weight="bold" text-anchor="middle">340</text><text transform="translate(390.61,525.80) scale(1,1.07)" font-size="34" font-weight="bold" text-anchor="middle">350</text><text transform="translate(467.79,525.80) scale(1,1.07)" font-size="34" font-weight="bold" text-anchor="middle">360</text><text transform="translate(544.96,525.80) scale(1,1.07)" font-size="34" font-weight="bold" text-anchor="middle">370</text><text transform="translate(622.14,525.80) scale(1,1.07)" font-size="34" font-weight="bold" text-anchor="middle">380</text><text transform="translate(699.31,525.80) scale(1,1.07)" font-size="34" font-weight="bold" text-anchor="middle">390</text><text transform="translate(776.49,525.80) scale(1,1.07)" font-size="34" font-weight="bold" text-anchor="middle">400</text>
<text transform="translate(449.50,581.20) scale(1,1.07)" font-size="35.2" font-weight="bold" text-anchor="middle">Wavlength (nm)</text>
<text transform="translate(59.60,276.30) scale(1,1.07) rotate(-90)" font-size="34" font-weight="bold" text-anchor="middle" xml:space="preserve">Intensity  (A.F.U.)</text>
<text transform="translate(813.60,41.00) scale(1,1.07)" font-size="54" font-weight="bold" fill="#222">b</text>
<text transform="translate(929.30,502.10) scale(1,1.07)" font-size="34" font-weight="bold" text-anchor="end">0</text><text transform="translate(929.30,439.50) scale(1,1.07)" font-size="34" font-weight="bold" text-anchor="end">10</text><text transform="translate(929.30,376.90) scale(1,1.07)" font-size="34" font-weight="bold" text-anchor="end">20</text><text transform="translate(929.30,314.30) scale(1,1.07)" font-size="34" font-weight="bold" text-anchor="end">30</text><text transform="translate(929.30,251.70) scale(1,1.07)" font-size="34" font-weight="bold" text-anchor="end">40</text><text transform="translate(929.30,189.10) scale(1,1.07)" font-size="34" font-weight="bold" text-anchor="end">50</text><text transform="translate(929.30,126.50) scale(1,1.07)" font-size="34" font-weight="bold" text-anchor="end">60</text><text transform="translate(929.30,63.90) scale(1,1.07)" font-size="34" font-weight="bold" text-anchor="end">70</text><text transform="translate(972.59,525.80) scale(1,1.07)" font-size="34" font-weight="bold" text-anchor="middle">320</text><text transform="translate(1049.76,525.80) scale(1,1.07)" font-size="34" font-weight="bold" text-anchor="middle">330</text><text transform="translate(1126.94,525.80) scale(1,1.07)" font-size="34" font-weight="bold" text-anchor="middle">340</text><text transform="translate(1204.11,525.80) scale(1,1.07)" font-size="34" font-weight="bold" text-anchor="middle">350</text><text transform="translate(1281.29,525.80) scale(1,1.07)" font-size="34" font-weight="bold" text-anchor="middle">360</text><text transform="translate(1358.46,525.80) scale(1,1.07)" font-size="34" font-weight="bold" text-anchor="middle">370</text><text transform="translate(1435.64,525.80) scale(1,1.07)" font-size="34" font-weight="bold" text-anchor="middle">380</text><text transform="translate(1512.81,525.80) scale(1,1.07)" font-size="34" font-weight="bold" text-anchor="middle">390</text><text transform="translate(1589.99,525.80) scale(1,1.07)" font-size="34" font-weight="bold" text-anchor="middle">400</text>
<text transform="translate(1263.00,581.20) scale(1,1.07)" font-size="35.2" font-weight="bold" text-anchor="middle">Wavlength (nm)</text>
<text transform="translate(873.10,276.30) scale(1,1.07) rotate(-90)" font-size="34" font-weight="bold" text-anchor="middle" xml:space="preserve">Intensity  (A.F.U.)</text>
<text transform="translate(0.00,650.50) scale(1,1.07)" font-size="57" font-weight="bold" fill="#222">c</text>
<text transform="translate(115.80,1112.10) scale(1,1.07)" font-size="34" font-weight="bold" text-anchor="end">0</text><text transform="translate(115.80,1049.50) scale(1,1.07)" font-size="34" font-weight="bold" text-anchor="end">10</text><text transform="translate(115.80,986.90) scale(1,1.07)" font-size="34" font-weight="bold" text-anchor="end">20</text><text transform="translate(115.80,924.30) scale(1,1.07)" font-size="34" font-weight="bold" text-anchor="end">30</text><text transform="translate(115.80,861.70) scale(1,1.07)" font-size="34" font-weight="bold" text-anchor="end">40</text><text transform="translate(115.80,799.10) scale(1,1.07)" font-size="34" font-weight="bold" text-anchor="end">50</text><text transform="translate(115.80,736.50) scale(1,1.07)" font-size="34" font-weight="bold" text-anchor="end">60</text><text transform="translate(115.80,673.90) scale(1,1.07)" font-size="34" font-weight="bold" text-anchor="end">70</text><text transform="translate(159.09,1135.80) scale(1,1.07)" font-size="34" font-weight="bold" text-anchor="middle">320</text><text transform="translate(236.26,1135.80) scale(1,1.07)" font-size="34" font-weight="bold" text-anchor="middle">330</text><text transform="translate(313.44,1135.80) scale(1,1.07)" font-size="34" font-weight="bold" text-anchor="middle">340</text><text transform="translate(390.61,1135.80) scale(1,1.07)" font-size="34" font-weight="bold" text-anchor="middle">350</text><text transform="translate(467.79,1135.80) scale(1,1.07)" font-size="34" font-weight="bold" text-anchor="middle">360</text><text transform="translate(544.96,1135.80) scale(1,1.07)" font-size="34" font-weight="bold" text-anchor="middle">370</text><text transform="translate(622.14,1135.80) scale(1,1.07)" font-size="34" font-weight="bold" text-anchor="middle">380</text><text transform="translate(699.31,1135.80) scale(1,1.07)" font-size="34" font-weight="bold" text-anchor="middle">390</text><text transform="translate(776.49,1135.80) scale(1,1.07)" font-size="34" font-weight="bold" text-anchor="middle">400</text>
<text transform="translate(449.50,1191.20) scale(1,1.07)" font-size="35.2" font-weight="bold" text-anchor="middle">Wavlength (nm)</text>
<text transform="translate(59.60,886.30) scale(1,1.07) rotate(-90)" font-size="34" font-weight="bold" text-anchor="middle" xml:space="preserve">Intensity  (A.F.U.)</text>
<text transform="translate(814.30,650.50) scale(1,1.07)" font-size="54" font-weight="bold" fill="#222">d</text>
<text transform="translate(929.30,1112.10) scale(1,1.07)" font-size="34" font-weight="bold" text-anchor="end">0</text><text transform="translate(929.30,1049.50) scale(1,1.07)" font-size="34" font-weight="bold" text-anchor="end">10</text><text transform="translate(929.30,986.90) scale(1,1.07)" font-size="34" font-weight="bold" text-anchor="end">20</text><text transform="translate(929.30,924.30) scale(1,1.07)" font-size="34" font-weight="bold" text-anchor="end">30</text><text transform="translate(929.30,861.70) scale(1,1.07)" font-size="34" font-weight="bold" text-anchor="end">40</text><text transform="translate(929.30,799.10) scale(1,1.07)" font-size="34" font-weight="bold" text-anchor="end">50</text><text transform="translate(929.30,736.50) scale(1,1.07)" font-size="34" font-weight="bold" text-anchor="end">60</text><text transform="translate(929.30,673.90) scale(1,1.07)" font-size="34" font-weight="bold" text-anchor="end">70</text><text transform="translate(972.59,1135.80) scale(1,1.07)" font-size="34" font-weight="bold" text-anchor="middle">320</text><text transform="translate(1049.76,1135.80) scale(1,1.07)" font-size="34" font-weight="bold" text-anchor="middle">330</text><text transform="translate(1126.94,1135.80) scale(1,1.07)" font-size="34" font-weight="bold" text-anchor="middle">340</text><text transform="translate(1204.11,1135.80) scale(1,1.07)" font-size="34" font-weight="bold" text-anchor="middle">350</text><text transform="translate(1281.29,1135.80) scale(1,1.07)" font-size="34" font-weight="bold" text-anchor="middle">360</text><text transform="translate(1358.46,1135.80) scale(1,1.07)" font-size="34" font-weight="bold" text-anchor="middle">370</text><text transform="translate(1435.64,1135.80) scale(1,1.07)" font-size="34" font-weight="bold" text-anchor="middle">380</text><text transform="translate(1512.81,1135.80) scale(1,1.07)" font-size="34" font-weight="bold" text-anchor="middle">390</text><text transform="translate(1589.99,1135.80) scale(1,1.07)" font-size="34" font-weight="bold" text-anchor="middle">400</text>
<text transform="translate(1263.00,1191.20) scale(1,1.07)" font-size="35.2" font-weight="bold" text-anchor="middle">Wavlength (nm)</text>
<text transform="translate(873.10,886.30) scale(1,1.07) rotate(-90)" font-size="34" font-weight="bold" text-anchor="middle" xml:space="preserve">Intensity  (A.F.U.)</text>
<path d="M559.0,63.9 V206.4 H770.1" fill="none" stroke="#000" stroke-width="2"/>
<path d="M559.0,192.2 h4.5 M559.0,178.1 h9 M559.0,163.9 h4.5 M559.0,149.8 h9 M559.0,135.7 h4.5 M559.0,121.5 h9 M559.0,107.4 h4.5 M559.0,93.2 h9 M559.0,79.0 h4.5 M559.0,64.9 h9 M578.1,206.4 v-4.5 M597.2,206.4 v-9 M616.3,206.4 v-4.5 M635.4,206.4 v-9 M654.5,206.4 v-4.5 M673.6,206.4 v-9 M692.7,206.4 v-4.5 M711.8,206.4 v-9 M730.9,206.4 v-4.5 M750.0,206.4 v-9 M769.1,206.4 v-4.5" stroke="#000" stroke-width="2" fill="none"/>
<text transform="translate(556.50,214.30) scale(1,1.07)" font-size="20.3" font-weight="bold" text-anchor="end">0.9</text><text transform="translate(556.50,186.00) scale(1,1.07)" font-size="20.3" font-weight="bold" text-anchor="end">1.0</text><text transform="translate(556.50,157.70) scale(1,1.07)" font-size="20.3" font-weight="bold" text-anchor="end">1.1</text><text transform="translate(556.50,129.40) scale(1,1.07)" font-size="20.3" font-weight="bold" text-anchor="end">1.2</text><text transform="translate(556.50,101.10) scale(1,1.07)" font-size="20.3" font-weight="bold" text-anchor="end">1.3</text><text transform="translate(556.50,72.80) scale(1,1.07)" font-size="20.3" font-weight="bold" text-anchor="end">1.4</text><text transform="translate(559.00,229.20) scale(1,1.07)" font-size="19.5" font-weight="bold" text-anchor="middle">0</text><text transform="translate(597.20,229.20) scale(1,1.07)" font-size="19.5" font-weight="bold" text-anchor="middle">2</text><text transform="translate(635.40,229.20) scale(1,1.07)" font-size="19.5" font-weight="bold" text-anchor="middle">4</text><text transform="translate(673.60,229.20) scale(1,1.07)" font-size="19.5" font-weight="bold" text-anchor="middle">6</text><text transform="translate(711.80,229.20) scale(1,1.07)" font-size="19.5" font-weight="bold" text-anchor="middle">8</text><text transform="translate(750.00,229.20) scale(1,1.07)" font-size="19.5" font-weight="bold" text-anchor="middle">10</text>
<text transform="translate(514.50,130.00) scale(1,1.07) rotate(-90)" font-size="21" font-weight="bold" text-anchor="middle">I<tspan font-size="15" dy="6">0</tspan><tspan dy="-6">/I</tspan></text>
<text transform="translate(664.50,261.20) scale(1,1.07)" font-size="21.3" font-weight="bold" text-anchor="middle">[PEG2000] (x10<tspan font-size="14.5" dy="-8">-5</tspan><tspan dy="8"> M)</tspan></text>
<path d="M559.0,179.5 L769.1,166.8" stroke="#000" stroke-width="2" stroke-dasharray="7 4" fill="none"/>
<g><circle cx="559.0" cy="178.1" r="4"/><circle cx="562.0" cy="180.4" r="4"/><circle cx="565.0" cy="178.7" r="4"/><circle cx="570.9" cy="177.0" r="4"/><circle cx="582.9" cy="176.7" r="4"/><circle cx="606.8" cy="177.0" r="4"/><circle cx="654.5" cy="175.3" r="4"/><circle cx="750.0" cy="168.2" r="4"/></g>
<path d="M1372.5,63.9 V206.4 H1583.6" fill="none" stroke="#000" stroke-width="2"/>
<path d="M1372.5,192.2 h4.5 M1372.5,178.1 h9 M1372.5,163.9 h4.5 M1372.5,149.8 h9 M1372.5,135.7 h4.5 M1372.5,121.5 h9 M1372.5,107.4 h4.5 M1372.5,93.2 h9 M1372.5,79.0 h4.5 M1372.5,64.9 h9 M1391.6,206.4 v-4.5 M1410.7,206.4 v-9 M1429.8,206.4 v-4.5 M1448.9,206.4 v-9 M1468.0,206.4 v-4.5 M1487.1,206.4 v-9 M1506.2,206.4 v-4.5 M1525.3,206.4 v-9 M1544.4,206.4 v-4.5 M1563.5,206.4 v-9 M1582.6,206.4 v-4.5" stroke="#000" stroke-width="2" fill="none"/>
<text transform="translate(1370.00,214.30) scale(1,1.07)" font-size="20.3" font-weight="bold" text-anchor="end">0.9</text><text transform="translate(1370.00,186.00) scale(1,1.07)" font-size="20.3" font-weight="bold" text-anchor="end">1.0</text><text transform="translate(1370.00,157.70) scale(1,1.07)" font-size="20.3" font-weight="bold" text-anchor="end">1.1</text><text transform="translate(1370.00,129.40) scale(1,1.07)" font-size="20.3" font-weight="bold" text-anchor="end">1.2</text><text transform="translate(1370.00,101.10) scale(1,1.07)" font-size="20.3" font-weight="bold" text-anchor="end">1.3</text><text transform="translate(1370.00,72.80) scale(1,1.07)" font-size="20.3" font-weight="bold" text-anchor="end">1.4</text><text transform="translate(1372.50,229.20) scale(1,1.07)" font-size="19.5" font-weight="bold" text-anchor="middle">0</text><text transform="translate(1410.70,229.20) scale(1,1.07)" font-size="19.5" font-weight="bold" text-anchor="middle">2</text><text transform="translate(1448.90,229.20) scale(1,1.07)" font-size="19.5" font-weight="bold" text-anchor="middle">4</text><text transform="translate(1487.10,229.20) scale(1,1.07)" font-size="19.5" font-weight="bold" text-anchor="middle">6</text><text transform="translate(1525.30,229.20) scale(1,1.07)" font-size="19.5" font-weight="bold" text-anchor="middle">8</text><text transform="translate(1563.50,229.20) scale(1,1.07)" font-size="19.5" font-weight="bold" text-anchor="middle">10</text>
<text transform="translate(1328.00,130.00) scale(1,1.07) rotate(-90)" font-size="21" font-weight="bold" text-anchor="middle">I<tspan font-size="15" dy="6">0</tspan><tspan dy="-6">/I</tspan></text>
<text transform="translate(1478.00,261.20) scale(1,1.07)" font-size="21.3" font-weight="bold" text-anchor="middle">[mPEG-DSPE] (x10<tspan font-size="14.5" dy="-8">-5</tspan><tspan dy="8"> M)</tspan></text>
<path d="M1372.5,180.9 L1491.9,64.3" stroke="#000" stroke-width="2" stroke-dasharray="7 4" fill="none"/>
<g><circle cx="1372.5" cy="178.1" r="4"/><circle cx="1375.5" cy="177.3" r="4"/><circle cx="1378.5" cy="174.7" r="4"/><circle cx="1384.4" cy="169.3" r="4"/><circle cx="1396.4" cy="154.6" r="4"/><circle cx="1420.2" cy="123.2" r="4"/><circle cx="1468.0" cy="91.5" r="4"/></g>
<path d="M559.0,673.9 V816.4 H770.1" fill="none" stroke="#000" stroke-width="2"/>
<path d="M559.0,802.2 h4.5 M559.0,788.1 h9 M559.0,773.9 h4.5 M559.0,759.8 h9 M559.0,745.6 h4.5 M559.0,731.5 h9 M559.0,717.4 h4.5 M559.0,703.2 h9 M559.0,689.0 h4.5 M559.0,674.9 h9 M578.1,816.4 v-4.5 M597.2,816.4 v-9 M616.3,816.4 v-4.5 M635.4,816.4 v-9 M654.5,816.4 v-4.5 M673.6,816.4 v-9 M692.7,816.4 v-4.5 M711.8,816.4 v-9 M730.9,816.4 v-4.5 M750.0,816.4 v-9 M769.1,816.4 v-4.5" stroke="#000" stroke-width="2" fill="none"/>
<text transform="translate(556.50,824.30) scale(1,1.07)" font-size="20.3" font-weight="bold" text-anchor="end">0.9</text><text transform="translate(556.50,796.00) scale(1,1.07)" font-size="20.3" font-weight="bold" text-anchor="end">1.0</text><text transform="translate(556.50,767.70) scale(1,1.07)" font-size="20.3" font-weight="bold" text-anchor="end">1.1</text><text transform="translate(556.50,739.40) scale(1,1.07)" font-size="20.3" font-weight="bold" text-anchor="end">1.2</text><text transform="translate(556.50,711.10) scale(1,1.07)" font-size="20.3" font-weight="bold" text-anchor="end">1.3</text><text transform="translate(556.50,682.80) scale(1,1.07)" font-size="20.3" font-weight="bold" text-anchor="end">1.4</text><text transform="translate(559.00,839.20) scale(1,1.07)" font-size="19.5" font-weight="bold" text-anchor="middle">0</text><text transform="translate(597.20,839.20) scale(1,1.07)" font-size="19.5" font-weight="bold" text-anchor="middle">2</text><text transform="translate(635.40,839.20) scale(1,1.07)" font-size="19.5" font-weight="bold" text-anchor="middle">4</text><text transform="translate(673.60,839.20) scale(1,1.07)" font-size="19.5" font-weight="bold" text-anchor="middle">6</text><text transform="translate(711.80,839.20) scale(1,1.07)" font-size="19.5" font-weight="bold" text-anchor="middle">8</text><text transform="translate(750.00,839.20) scale(1,1.07)" font-size="19.5" font-weight="bold" text-anchor="middle">10</text>
<text transform="translate(514.50,740.00) scale(1,1.07) rotate(-90)" font-size="21" font-weight="bold" text-anchor="middle">I<tspan font-size="15" dy="6">0</tspan><tspan dy="-6">/I</tspan></text>
<text transform="translate(664.50,871.20) scale(1,1.07)" font-size="21.3" font-weight="bold" text-anchor="middle">[mPEG-LA] (x10<tspan font-size="14.5" dy="-8">-5</tspan><tspan dy="8"> M)</tspan></text>
<path d="M559.0,786.4 L769.1,781.0" stroke="#000" stroke-width="2" stroke-dasharray="7 4" fill="none"/>
<g><circle cx="559.0" cy="788.1" r="4"/><circle cx="562.0" cy="785.3" r="4"/><circle cx="565.0" cy="786.7" r="4"/><circle cx="570.9" cy="782.4" r="4"/><circle cx="582.9" cy="786.7" r="4"/><circle cx="606.8" cy="788.7" r="4"/><circle cx="654.5" cy="781.9" r="4"/><circle cx="750.0" cy="782.4" r="4"/></g>
<path d="M1372.5,673.9 V816.4 H1583.6" fill="none" stroke="#000" stroke-width="2"/>
<path d="M1372.5,802.2 h4.5 M1372.5,788.1 h9 M1372.5,773.9 h4.5 M1372.5,759.8 h9 M1372.5,745.6 h4.5 M1372.5,731.5 h9 M1372.5,717.4 h4.5 M1372.5,703.2 h9 M1372.5,689.0 h4.5 M1372.5,674.9 h9 M1391.6,816.4 v-4.5 M1410.7,816.4 v-9 M1429.8,816.4 v-4.5 M1448.9,816.4 v-9 M1468.0,816.4 v-4.5 M1487.1,816.4 v-9 M1506.2,816.4 v-4.5 M1525.3,816.4 v-9 M1544.4,816.4 v-4.5 M1563.5,816.4 v-9 M1582.6,816.4 v-4.5" stroke="#000" stroke-width="2" fill="none"/>
<text transform="translate(1370.00,824.30) scale(1,1.07)" font-size="20.3" font-weight="bold" text-anchor="end">0.9</text><text transform="translate(1370.00,796.00) scale(1,1.07)" font-size="20.3" font-weight="bold" text-anchor="end">1.0</text><text transform="translate(1370.00,767.70) scale(1,1.07)" font-size="20.3" font-weight="bold" text-anchor="end">1.1</text><text transform="translate(1370.00,739.40) scale(1,1.07)" font-size="20.3" font-weight="bold" text-anchor="end">1.2</text><text transform="translate(1370.00,711.10) scale(1,1.07)" font-size="20.3" font-weight="bold" text-anchor="end">1.3</text><text transform="translate(1370.00,682.80) scale(1,1.07)" font-size="20.3" font-weight="bold" text-anchor="end">1.4</text><text transform="translate(1372.50,839.20) scale(1,1.07)" font-size="19.5" font-weight="bold" text-anchor="middle">0</text><text transform="translate(1410.70,839.20) scale(1,1.07)" font-size="19.5" font-weight="bold" text-anchor="middle">2</text><text transform="translate(1448.90,839.20) scale(1,1.07)" font-size="19.5" font-weight="bold" text-anchor="middle">4</text><text transform="translate(1487.10,839.20) scale(1,1.07)" font-size="19.5" font-weight="bold" text-anchor="middle">6</text><text transform="translate(1525.30,839.20) scale(1,1.07)" font-size="19.5" font-weight="bold" text-anchor="middle">8</text><text transform="translate(1563.50,839.20) scale(1,1.07)" font-size="19.5" font-weight="bold" text-anchor="middle">10</text>
<text transform="translate(1328.00,740.00) scale(1,1.07) rotate(-90)" font-size="21" font-weight="bold" text-anchor="middle">I<tspan font-size="15" dy="6">0</tspan><tspan dy="-6">/I</tspan></text>
<text transform="translate(1478.00,871.20) scale(1,1.07)" font-size="21.3" font-weight="bold" text-anchor="middle">[mPEG-CL] (x10<tspan font-size="14.5" dy="-8">-5</tspan><tspan dy="8"> M)</tspan></text>
<path d="M1372.5,786.1 L1582.6,747.7" stroke="#000" stroke-width="2" stroke-dasharray="7 4" fill="none"/>
<path d="M1396.4,772.5 V779.9 M1392.4,772.5 h8 M1392.4,779.9 h8 M1420.2,764.9 V777.3 M1416.2,764.9 h8 M1416.2,777.3 h8 M1468.0,757.3 V768.0 M1464.0,757.3 h8 M1464.0,768.0 h8 M1563.5,745.4 V765.7 M1559.5,745.4 h8 M1559.5,765.7 h8" stroke="#000" stroke-width="2" fill="none"/>
<g><circle cx="1372.5" cy="787.6" r="4"/><circle cx="1375.5" cy="786.4" r="4"/><circle cx="1378.5" cy="784.1" r="4"/><circle cx="1384.4" cy="781.3" r="4"/><circle cx="1396.4" cy="776.2" r="4"/><circle cx="1420.2" cy="771.1" r="4"/><circle cx="1468.0" cy="762.6" r="4"/><circle cx="1563.5" cy="755.6" r="4"/></g>
<text transform="translate(1704.05,526.70) scale(1,1.07)" font-size="23" font-weight="bold" text-anchor="middle">[Polymer]</text>
<path d="M1624.2,556.9 H1670.8" fill="none" stroke="#d00325" stroke-width="4.6" stroke-linecap="round" stroke-linejoin="round" stroke-dasharray="12 9.8"/>
<text transform="translate(1697.00,564.50) scale(1,1.07)" font-size="22.8">0 µM</text>
<path d="M1624.2,594.9 H1670.8" fill="none" stroke="#000" stroke-width="4.8" stroke-linecap="round" stroke-linejoin="round"/>
<text transform="translate(1697.00,602.50) scale(1,1.07)" font-size="22.8">100 µM</text>
<path d="M1622,632.9 H1668.5" fill="none" stroke="#000" stroke-width="4.6" stroke-linecap="round" stroke-linejoin="round" stroke-dasharray="12 9.8"/>
<text transform="translate(1695.00,640.50) scale(1,1.07)" font-size="22.8">50 µM</text>
<path d="M1624,670.9 H1668" fill="none" stroke="#000" stroke-width="4.6" stroke-linecap="round" stroke-linejoin="round" stroke-dasharray="0 8.77"/>
<text transform="translate(1697.00,678.50) scale(1,1.07)" font-size="22.8">25 µM</text>
<path d="M1624.2,708.9 H1668" fill="none" stroke="#000" stroke-width="4.6" stroke-linecap="round" stroke-linejoin="round" stroke-dasharray="12.9 8.8 0 8.9"/>
<text transform="translate(1697.00,716.50) scale(1,1.07)" font-size="22.8">12.5 µM</text>
<path d="M1624.2,746.9 H1670.8" fill="none" stroke="#5f5f5f" stroke-width="4.2" stroke-linecap="round" stroke-linejoin="round"/>
<text transform="translate(1697.00,754.50) scale(1,1.07)" font-size="22.8">6.25 µM</text>
<path d="M1624.2,784.9 H1670.8" fill="none" stroke="#5f5f5f" stroke-width="4.6" stroke-linecap="round" stroke-linejoin="round" stroke-dasharray="12 9.8"/>
<text transform="translate(1697.00,792.50) scale(1,1.07)" font-size="22.8">3.125 µM</text>
<path d="M1624,822.9 H1668" fill="none" stroke="#5f5f5f" stroke-width="4.4" stroke-linecap="round" stroke-linejoin="round" stroke-dasharray="0 8.77"/>
<text transform="translate(1697.00,830.50) scale(1,1.07)" font-size="22.8">1.5625 µM</text>
</svg>
</body></html>
